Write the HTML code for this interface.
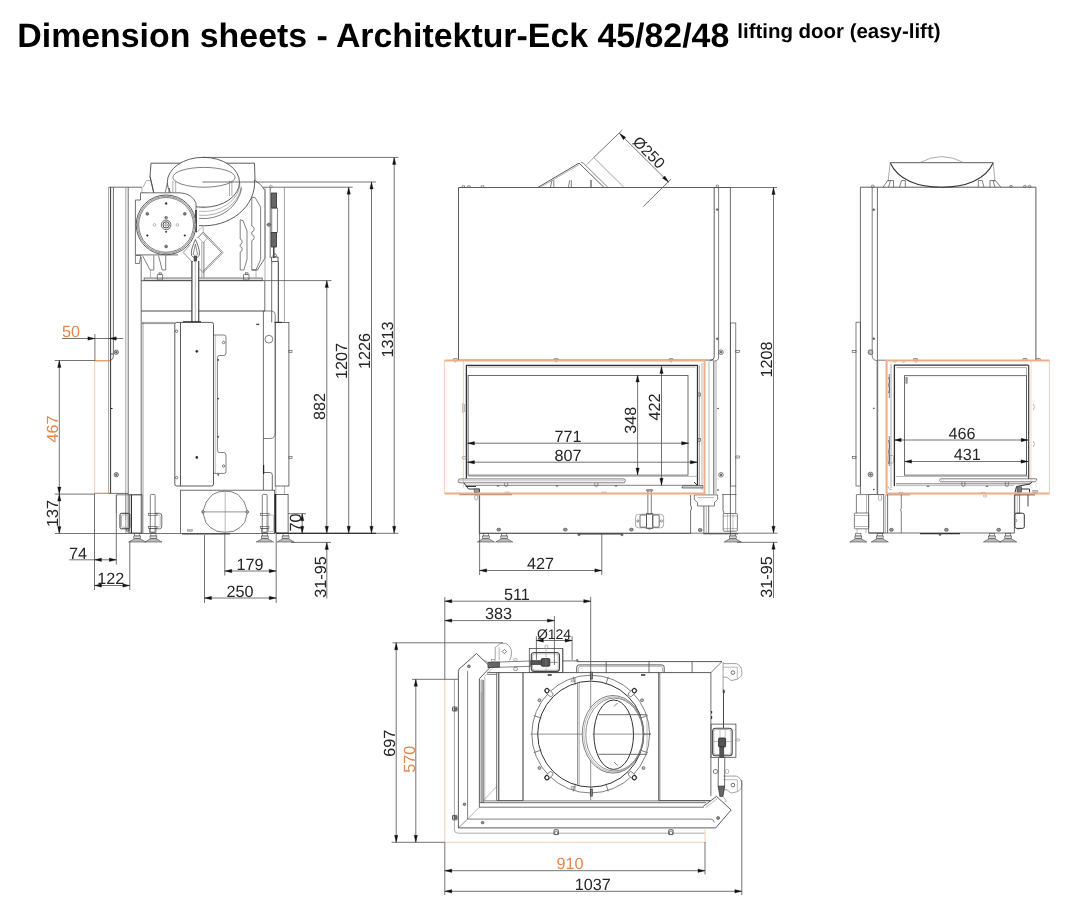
<!DOCTYPE html>
<html><head><meta charset="utf-8"><title>Dimension sheets</title>
<style>
html,body{margin:0;padding:0;background:#fff;text-rendering:geometricPrecision;}
body{width:1066px;height:903px;overflow:hidden;font-family:"Liberation Sans",sans-serif;position:relative;}
h1{position:absolute;left:17.3px;top:16.3px;margin:0;font-size:33.87px;line-height:40px;font-weight:bold;color:#000;white-space:nowrap;letter-spacing:0;will-change:transform;}
h1 sup{font-size:20.45px;position:relative;top:0px;vertical-align:9.3px;line-height:0;margin-left:-1.9px;}
svg{position:absolute;left:0;top:0;will-change:transform;}
svg text{font-family:"Liberation Sans",sans-serif;}
</style></head><body>
<svg width="1066" height="903" viewBox="0 0 1066 903">
<line x1="108.7" y1="187.2" x2="142" y2="187.2" stroke="#4a4a4a" stroke-width="0.8"/>
<line x1="108.6" y1="187.2" x2="108.6" y2="493.4" stroke="#8a8a8a" stroke-width="0.8"/>
<line x1="110.6" y1="187.2" x2="110.6" y2="493.4" stroke="#333" stroke-width="1.0"/>
<path d="M113.4,187.2 L113.4,356 Q113.4,359.5 110.8,360.2" fill="none" stroke="#4a4a4a" stroke-width="0.8" stroke-linejoin="round"/>
<line x1="125.8" y1="187.2" x2="125.8" y2="533" stroke="#8a8a8a" stroke-width="0.8"/>
<line x1="128.2" y1="187.2" x2="128.2" y2="533" stroke="#4a4a4a" stroke-width="0.8"/>
<line x1="141.2" y1="257" x2="141.2" y2="533" stroke="#4a4a4a" stroke-width="0.8"/>
<line x1="143" y1="322.4" x2="143" y2="533" stroke="#8a8a8a" stroke-width="0.8"/>
<circle cx="116.3" cy="352.2" r="2.2" fill="#ccc" stroke="#4a4a4a" stroke-width="0.7"/>
<circle cx="116.3" cy="352.2" r="0.8" fill="#666" stroke="#333" stroke-width="0.4"/>
<circle cx="116.3" cy="474.7" r="2.2" fill="#ccc" stroke="#4a4a4a" stroke-width="0.7"/>
<circle cx="116.3" cy="474.7" r="0.8" fill="#666" stroke="#333" stroke-width="0.4"/>
<line x1="108.6" y1="493.4" x2="128.2" y2="493.4" stroke="#4a4a4a" stroke-width="0.8"/>
<line x1="111" y1="408.5" x2="112.5" y2="408.5" stroke="#222" stroke-width="1"/>
<line x1="111" y1="354" x2="113" y2="354" stroke="#222" stroke-width="0.8"/>
<path d="M151,163.2 L254.5,163.2 L255,180 M151,163.2 L150,176.5 L153.8,193" fill="none" stroke="#4a4a4a" stroke-width="0.9" stroke-linejoin="round"/>
<line x1="150" y1="176.5" x2="153.8" y2="193" stroke="#4a4a4a" stroke-width="0.8"/>
<path d="M254.6,180 A51,43.5 0 0 1 199,225.6" fill="none" stroke="#4a4a4a" stroke-width="0.9" stroke-linejoin="round"/>
<path d="M241.4,186 A38,33 0 0 1 199,215.2" fill="none" stroke="#8a8a8a" stroke-width="0.7" stroke-linejoin="round"/>
<path d="M241.6,188 A38.2,36 0 0 1 199,218.3" fill="none" stroke="#4a4a4a" stroke-width="0.7" stroke-linejoin="round"/>
<path d="M240,183 A36.5,29 0 0 1 199,211.3" fill="none" stroke="#8a8a8a" stroke-width="0.6" stroke-linejoin="round"/>
<ellipse cx="203.4" cy="182.3" rx="36.1" ry="25" fill="#fff" stroke="#4a4a4a" stroke-width="0.9"/>
<ellipse cx="204" cy="177.3" rx="31.1" ry="9.9" fill="none" stroke="#4a4a4a" stroke-width="0.7"/>
<path d="M172.8,180.7 L172.8,192.5 M175.7,180.7 L175.7,192.5 M229.5,180.7 L229.5,196 M231.9,180.7 L231.9,196" fill="none" stroke="#8a8a8a" stroke-width="0.7" stroke-linejoin="round"/>
<path d="M167.4,183 L165.2,192.7 M169.6,188 L168.6,192.7" fill="none" stroke="#4a4a4a" stroke-width="0.7" stroke-linejoin="round"/>
<path d="M203.2,206 L201.8,207.6 L204.6,207.6 Z" fill="none" stroke="#8a8a8a" stroke-width="0.6" stroke-linejoin="round"/>
<path d="M143,187.2 L146.5,180.5 L150,180.5 M142,187.2 L142,193 L146,193 L146,196 L153,194" fill="none" stroke="#8a8a8a" stroke-width="0.7" stroke-linejoin="round"/>
<path d="M140.5,192.8 L180,192.8 Q192,193.5 196,203 L196,232 L186,249 L178,254.9 L135.4,254.9 L135.4,200 L140.5,200 Z" fill="#fff" stroke="none" stroke-width="0" stroke-linejoin="round"/>
<path d="M140.5,192.8 L180,192.8 Q192,193.5 196,203 L196,232 M135.4,200 L135.4,254.9 L178,254.9 M135.4,200 L140.5,200 L140.5,192.8" fill="none" stroke="#4a4a4a" stroke-width="0.8" stroke-linejoin="round"/>
<line x1="196" y1="210" x2="196" y2="232" stroke="#333" stroke-width="1.6"/>
<circle cx="166.1" cy="224.9" r="29.9" fill="#fff" stroke="#4a4a4a" stroke-width="0.9"/>
<circle cx="166.1" cy="224.9" r="28.6" fill="none" stroke="#4a4a4a" stroke-width="0.6"/>
<circle cx="166.1" cy="224.9" r="27.4" fill="none" stroke="#4a4a4a" stroke-width="0.7"/>
<circle cx="166.1" cy="224.9" r="4.8" fill="none" stroke="#4a4a4a" stroke-width="0.8"/>
<circle cx="166.1" cy="224.9" r="3.1" fill="none" stroke="#333" stroke-width="0.9"/>
<circle cx="166.1" cy="224.9" r="1.3" fill="none" stroke="#4a4a4a" stroke-width="0.6"/>
<circle cx="166.1" cy="203.5" r="0.9" fill="#222" stroke="#222" stroke-width="0.5"/>
<circle cx="166.1" cy="246.4" r="1.5" fill="#777" stroke="#555" stroke-width="0.5"/>
<circle cx="147.3" cy="213.8" r="1.5" fill="#777" stroke="#555" stroke-width="0.5"/>
<circle cx="184.8" cy="213.8" r="1.5" fill="#777" stroke="#555" stroke-width="0.5"/>
<circle cx="147.3" cy="235.5" r="0.8" fill="#222" stroke="#222" stroke-width="0.5"/>
<circle cx="184.8" cy="235.5" r="0.8" fill="#222" stroke="#222" stroke-width="0.5"/>
<circle cx="154.5" cy="224.9" r="1.3" fill="none" stroke="#8a8a8a" stroke-width="0.6"/>
<circle cx="177.4" cy="224.9" r="1.3" fill="none" stroke="#8a8a8a" stroke-width="0.6"/>
<circle cx="166.1" cy="217.7" r="1.4" fill="#888" stroke="#555" stroke-width="0.5"/>
<circle cx="166.1" cy="231.8" r="0.7" fill="#222" stroke="#222" stroke-width="0.5"/>
<path d="M135.4,255.5 L140.8,255.5 L139.5,263.5 L135.4,263.5 Z" fill="none" stroke="#4a4a4a" stroke-width="0.7" stroke-linejoin="round"/>
<path d="M142.5,255.5 L150,270 L153.8,270 L153.8,255.5 M158.5,255.5 L162.2,270 L165.7,270 L165.7,255.5" fill="none" stroke="#4a4a4a" stroke-width="0.7" stroke-linejoin="round"/>
<path d="M203.2,232 L223.1,252.5 L203.2,272.6 L199,268.4 M203.2,232 L197.5,238 M190.5,244.5 L183.2,252.5 L191.8,261.5" fill="none" stroke="#8a8a8a" stroke-width="0.9" stroke-linejoin="round"/>
<path d="M203.2,233.8 L221.5,252.5 L203.2,271" fill="none" stroke="#4a4a4a" stroke-width="0.6" stroke-linejoin="round"/>
<path d="M203.2,232.5 L208,237.6 L203.2,242.6 L198.4,237.6 Z" fill="none" stroke="#8a8a8a" stroke-width="0.7" stroke-linejoin="round"/>
<line x1="201.8" y1="242" x2="201.8" y2="277.5" stroke="#8a8a8a" stroke-width="0.7"/>
<line x1="203.9" y1="242" x2="203.9" y2="277.5" stroke="#4a4a4a" stroke-width="0.7"/>
<line x1="196" y1="233" x2="203.2" y2="226.5" stroke="#8a8a8a" stroke-width="0.6"/>
<line x1="203.2" y1="226.5" x2="203.2" y2="232" stroke="#8a8a8a" stroke-width="0.6"/>
<path d="M195.4,239.5 C193,245 190.6,251 191.6,255.5 Q195.4,260.5 199.2,255.5 C200.2,251 197.8,245 195.4,239.5 Z" fill="#fff" stroke="#4a4a4a" stroke-width="0.8" stroke-linejoin="round"/>
<path d="M195.4,244 L193.2,254.5 Q195.4,257 197.6,254.5 Z" fill="none" stroke="#4a4a4a" stroke-width="0.6" stroke-linejoin="round"/>
<rect x="194.2" y="256.5" width="2.2" height="4.5" rx="0" fill="#555" stroke="#333" stroke-width="0.8"/>
<line x1="192" y1="261" x2="192" y2="322.4" stroke="#4a4a4a" stroke-width="0.9"/>
<line x1="198.7" y1="261" x2="198.7" y2="322.4" stroke="#4a4a4a" stroke-width="0.9"/>
<line x1="195.3" y1="262" x2="195.3" y2="322" stroke="#8a8a8a" stroke-width="0.6"/>
<path d="M254.6,180 L260.6,184.7 L265,190.3 L265,258 L257.4,270 L251.8,270" fill="none" stroke="#4a4a4a" stroke-width="0.8" stroke-linejoin="round"/>
<path d="M251.8,197.4 L255,197.4 L260.6,207 L260.6,259.5 L255.8,270 L251.8,270 L251.8,240.5 Q254.6,239.5 254.2,237.5 Q254.6,235.5 251.8,234.5 L251.8,232 Q254.6,231 254.2,229 Q254.6,227 251.8,226 Z" fill="none" stroke="#4a4a4a" stroke-width="0.7" stroke-linejoin="round"/>
<path d="M240.2,219.8 L243,220.5 L247,231 L247,259.5 L243.8,270 L240.2,270 L240.2,252 Q242.6,251 242.2,249.3 Q242.6,247.5 240.2,246.5 L240.2,244.5 Q242.6,243.5 242.2,241.8 Q242.6,240 240.2,239 Z" fill="none" stroke="#4a4a4a" stroke-width="0.7" stroke-linejoin="round"/>
<rect x="144.1" y="278" width="118.1" height="2.4" rx="0" fill="#ddd" stroke="#4a4a4a" stroke-width="0.7"/>
<rect x="157.3" y="274.3" width="5.3" height="5.7" rx="0.8" fill="none" stroke="#4a4a4a" stroke-width="0.7"/>
<rect x="159" y="272.8" width="2.5" height="1.5" rx="0" fill="none" stroke="#4a4a4a" stroke-width="0.6"/>
<rect x="243.5" y="274.3" width="5.5" height="5.7" rx="0.8" fill="none" stroke="#4a4a4a" stroke-width="0.7"/>
<rect x="245.5" y="272.8" width="2.5" height="1.5" rx="0" fill="none" stroke="#4a4a4a" stroke-width="0.6"/>
<line x1="150.5" y1="270" x2="150.5" y2="278" stroke="#8a8a8a" stroke-width="0.6"/>
<line x1="256" y1="270" x2="256" y2="278" stroke="#8a8a8a" stroke-width="0.6"/>
<line x1="265" y1="187.2" x2="265" y2="280" stroke="#8a8a8a" stroke-width="0.7"/>
<line x1="284.4" y1="187.2" x2="284.4" y2="322.4" stroke="#8a8a8a" stroke-width="0.8"/>
<circle cx="270.9" cy="186.6" r="1.4" fill="none" stroke="#8a8a8a" stroke-width="0.7"/>
<line x1="270.2" y1="188" x2="270.2" y2="258" stroke="#4a4a4a" stroke-width="0.8"/>
<rect x="271.3" y="193" width="5.3" height="15" rx="0" fill="#666" stroke="#333" stroke-width="0.8"/>
<rect x="271.8" y="208" width="5.5" height="24.5" rx="0" fill="none" stroke="#4a4a4a" stroke-width="0.7"/>
<rect x="271.3" y="232.5" width="5.3" height="14.5" rx="0" fill="#666" stroke="#333" stroke-width="0.8"/>
<line x1="273.8" y1="247" x2="273.8" y2="258" stroke="#333" stroke-width="1.4"/>
<circle cx="268.9" cy="224.7" r="1.6" fill="#aaa" stroke="#4a4a4a" stroke-width="0.7"/>
<line x1="266.5" y1="224.7" x2="271.3" y2="224.7" stroke="#4a4a4a" stroke-width="0.6"/>
<path d="M271.6,257 L278,257 L278,261.5 L271.6,261.5 Z" fill="none" stroke="#4a4a4a" stroke-width="0.9" stroke-linejoin="round"/>
<circle cx="274.8" cy="255.5" r="1.6" fill="none" stroke="#4a4a4a" stroke-width="0.8"/>
<line x1="271.7" y1="261.5" x2="271.7" y2="322.4" stroke="#4a4a4a" stroke-width="0.8"/>
<line x1="278.3" y1="261.5" x2="278.3" y2="322.4" stroke="#333" stroke-width="1.0"/>
<line x1="141.2" y1="280.7" x2="264.8" y2="280.7" stroke="#4a4a4a" stroke-width="0.9"/>
<line x1="264.8" y1="280.7" x2="264.8" y2="311" stroke="#4a4a4a" stroke-width="0.8"/>
<line x1="141.2" y1="311" x2="192" y2="311" stroke="#4a4a4a" stroke-width="1.0"/>
<line x1="198.7" y1="311" x2="264.8" y2="311" stroke="#4a4a4a" stroke-width="1.0"/>
<line x1="141.2" y1="322.4" x2="174.8" y2="322.4" stroke="#8a8a8a" stroke-width="0.8"/>
<line x1="142" y1="323.6" x2="174.8" y2="323.6" stroke="#4a4a4a" stroke-width="0.6"/>
<rect x="192" y="262" width="6.7" height="59.5" rx="0" fill="#fff" stroke="none" stroke-width="0"/>
<line x1="192" y1="261" x2="192" y2="322.4" stroke="#404040" stroke-width="1.0"/>
<line x1="198.7" y1="261" x2="198.7" y2="322.4" stroke="#404040" stroke-width="1.0"/>
<line x1="195.3" y1="262" x2="195.3" y2="322" stroke="#8a8a8a" stroke-width="0.6"/>
<rect x="174.8" y="322.4" width="38.7" height="163.6" rx="2" fill="none" stroke="#4a4a4a" stroke-width="0.9"/>
<line x1="180.5" y1="322.4" x2="180.5" y2="486" stroke="#4a4a4a" stroke-width="0.9"/>
<line x1="183" y1="321.8" x2="201" y2="321.8" stroke="#333" stroke-width="1.2"/>
<circle cx="176.6" cy="331.2" r="1.2" fill="none" stroke="#4a4a4a" stroke-width="0.7"/>
<circle cx="176.6" cy="477.6" r="1.2" fill="none" stroke="#4a4a4a" stroke-width="0.7"/>
<circle cx="196.8" cy="351.3" r="1.1" fill="#222" stroke="#222" stroke-width="0.5"/>
<circle cx="196.8" cy="457.4" r="1.1" fill="#222" stroke="#222" stroke-width="0.5"/>
<path d="M213.5,335 L224,335 Q226,335 226,337 L226,353 Q226,355.5 223.5,355.5 L219.5,355.5 Q217.4,355.5 217.4,357.5 L217.4,450.5 Q217.4,452.5 219.5,452.5 L223.5,452.5 Q226,452.5 226,455 L226,471.4 Q226,473.4 224,473.4 L213.5,473.4" fill="none" stroke="#4a4a4a" stroke-width="0.7" stroke-linejoin="round"/>
<line x1="215.2" y1="335" x2="215.2" y2="473.4" stroke="#8a8a8a" stroke-width="0.6"/>
<circle cx="223.6" cy="342.5" r="1.2" fill="none" stroke="#4a4a4a" stroke-width="0.7"/>
<circle cx="223.6" cy="466" r="1.2" fill="none" stroke="#4a4a4a" stroke-width="0.7"/>
<circle cx="218.2" cy="359.9" r="0.6" fill="#222" stroke="#222" stroke-width="0.4"/>
<circle cx="218.2" cy="398.6" r="0.6" fill="#222" stroke="#222" stroke-width="0.4"/>
<circle cx="218.2" cy="436.8" r="0.6" fill="#222" stroke="#222" stroke-width="0.4"/>
<circle cx="218.2" cy="474.8" r="0.6" fill="#222" stroke="#222" stroke-width="0.4"/>
<path d="M263.4,311 L271.2,311 Q275.2,311 275.2,315.5 L275.2,433 Q275.2,438.5 270,438.5 L263.4,438.5" fill="none" stroke="#4a4a4a" stroke-width="0.7" stroke-linejoin="round"/>
<line x1="263.4" y1="311" x2="263.4" y2="490" stroke="#4a4a4a" stroke-width="0.8"/>
<circle cx="268.9" cy="339.2" r="3.9" fill="none" stroke="#4a4a4a" stroke-width="0.7"/>
<line x1="256.2" y1="324.3" x2="259.2" y2="324.3" stroke="#222" stroke-width="1.1"/>
<rect x="275.2" y="322.5" width="13.7" height="163.5" rx="0" fill="none" stroke="#4a4a4a" stroke-width="0.8"/>
<line x1="274.5" y1="322.4" x2="282" y2="322.4" stroke="#333" stroke-width="1.2"/>
<rect x="288.9" y="350.3" width="3.1" height="2" rx="0" fill="none" stroke="#4a4a4a" stroke-width="0.6"/>
<rect x="288.9" y="456.3" width="3.1" height="2" rx="0" fill="none" stroke="#4a4a4a" stroke-width="0.6"/>
<path d="M263.4,472.5 L270,472.5 Q272.3,472.5 272.3,475 L272.3,490" fill="none" stroke="#4a4a4a" stroke-width="0.8" stroke-linejoin="round"/>
<line x1="263.6" y1="465" x2="263.6" y2="474" stroke="#222" stroke-width="1.2"/>
<line x1="275.8" y1="486" x2="275.8" y2="494" stroke="#8a8a8a" stroke-width="0.7"/>
<line x1="284.4" y1="486" x2="284.4" y2="494" stroke="#8a8a8a" stroke-width="0.7"/>
<rect x="180.4" y="490.2" width="94.3" height="43.2" rx="0" fill="none" stroke="#4a4a4a" stroke-width="0.8"/>
<line x1="182" y1="533.8" x2="230" y2="533.8" stroke="#444" stroke-width="1.2"/>
<polygon points="202.8,511.9 206.2,502 212.5,494.5 219,491.8 225.2,491.2 231.5,491.8 238,494.5 244.2,502 247.6,511.9 244.6,522.5 240,527.5 233.5,531.3 225.2,532.3 217,531.3 210.5,527.5 205.8,522.5" fill="none" stroke="#4a4a4a" stroke-width="0.7" stroke-linejoin="round"/>
<line x1="202.8" y1="511.9" x2="247.6" y2="511.9" stroke="#4a4a4a" stroke-width="0.6"/>
<line x1="225.2" y1="491.5" x2="225.2" y2="533" stroke="#8a8a8a" stroke-width="0.6"/>
<circle cx="203" cy="511.9" r="1.3" fill="#bbb" stroke="#4a4a4a" stroke-width="0.7"/>
<circle cx="247.3" cy="511.9" r="1.3" fill="#bbb" stroke="#4a4a4a" stroke-width="0.7"/>
<rect x="187.5" y="529.6" width="5" height="1.6" rx="0" fill="#bbb" stroke="#8a8a8a" stroke-width="0.5"/>
<line x1="116.4" y1="494.8" x2="116.4" y2="513" stroke="#8a8a8a" stroke-width="0.7"/>
<line x1="116.4" y1="494.8" x2="142" y2="494.8" stroke="#4a4a4a" stroke-width="0.7"/>
<rect x="129.8" y="494.8" width="12.2" height="38.2" rx="0" fill="none" stroke="#4a4a4a" stroke-width="0.8"/>
<line x1="131.5" y1="494.8" x2="131.5" y2="533" stroke="#333" stroke-width="1.0"/>
<line x1="125.8" y1="494.8" x2="125.8" y2="520" stroke="#8a8a8a" stroke-width="0.6"/>
<rect x="120" y="513.3" width="9.8" height="15.5" rx="1.5" fill="none" stroke="#333" stroke-width="1.0"/>
<rect x="121.5" y="515" width="6.8" height="12.3" rx="1" fill="none" stroke="#8a8a8a" stroke-width="0.6"/>
<rect x="126.5" y="528.8" width="2.5" height="2.2" rx="0" fill="none" stroke="#4a4a4a" stroke-width="0.6"/>
<rect x="150.3" y="494.4" width="4.8" height="37.8" rx="1" fill="none" stroke="#4a4a4a" stroke-width="0.7"/>
<rect x="148.4" y="513.3" width="8.6" height="2" rx="0" fill="none" stroke="#4a4a4a" stroke-width="0.6"/>
<rect x="148.4" y="526.5" width="8.6" height="2" rx="0" fill="none" stroke="#4a4a4a" stroke-width="0.6"/>
<rect x="149.4" y="528.5" width="6.6" height="4" rx="0" fill="none" stroke="#4a4a4a" stroke-width="0.6"/>
<rect x="262.3" y="494.4" width="4.8" height="37.8" rx="1" fill="none" stroke="#4a4a4a" stroke-width="0.7"/>
<rect x="260.4" y="513.3" width="8.6" height="2" rx="0" fill="none" stroke="#4a4a4a" stroke-width="0.6"/>
<rect x="260.4" y="526.5" width="8.6" height="2" rx="0" fill="none" stroke="#4a4a4a" stroke-width="0.6"/>
<rect x="261.4" y="528.5" width="6.6" height="4" rx="0" fill="none" stroke="#4a4a4a" stroke-width="0.6"/>
<path d="M155,513.3 L159.5,513.3 Q161.8,513.3 161.8,516 L161.8,526 Q161.8,528.8 159.5,528.8 L155,528.8" fill="none" stroke="#4a4a4a" stroke-width="0.8" stroke-linejoin="round"/>
<path d="M155,515 L158.8,515 Q160.2,515 160.2,516.5 L160.2,525.5 Q160.2,527 158.8,527 L155,527" fill="none" stroke="#8a8a8a" stroke-width="0.6" stroke-linejoin="round"/>
<rect x="274.7" y="494.4" width="13.4" height="38.6" rx="0" fill="none" stroke="#4a4a4a" stroke-width="0.8"/>
<line x1="275.6" y1="494" x2="275.6" y2="533" stroke="#222" stroke-width="1.4"/>
<rect x="268.3" y="515" width="5.4" height="16.5" rx="1" fill="none" stroke="#8a8a8a" stroke-width="0.6"/>
<rect x="134.6" y="533.4" width="5.2" height="2.6" rx="0" fill="none" stroke="#4a4a4a" stroke-width="0.6"/>
<rect x="133.8" y="536" width="6.8" height="2.6" rx="0" fill="#ddd" stroke="#4a4a4a" stroke-width="0.6"/>
<path d="M128.6,542.0 Q133.2,539.4 134.6,538.6 L139.79999999999998,538.6 Q141.2,539.4 145.79999999999998,542.0 Z" fill="#bbb" stroke="#4a4a4a" stroke-width="0.6" stroke-linejoin="round"/>
<rect x="150.8" y="533.4" width="5.2" height="2.6" rx="0" fill="none" stroke="#4a4a4a" stroke-width="0.6"/>
<rect x="150" y="536" width="6.8" height="2.6" rx="0" fill="#ddd" stroke="#4a4a4a" stroke-width="0.6"/>
<path d="M144.8,542.0 Q149.4,539.4 150.8,538.6 L156.0,538.6 Q157.4,539.4 162.0,542.0 Z" fill="#bbb" stroke="#4a4a4a" stroke-width="0.6" stroke-linejoin="round"/>
<rect x="262.2" y="533.4" width="5.2" height="2.6" rx="0" fill="none" stroke="#4a4a4a" stroke-width="0.6"/>
<rect x="261.4" y="536" width="6.8" height="2.6" rx="0" fill="#ddd" stroke="#4a4a4a" stroke-width="0.6"/>
<path d="M256.2,542.0 Q260.8,539.4 262.2,538.6 L267.40000000000003,538.6 Q268.8,539.4 273.40000000000003,542.0 Z" fill="#bbb" stroke="#4a4a4a" stroke-width="0.6" stroke-linejoin="round"/>
<rect x="283" y="533.4" width="5.2" height="2.6" rx="0" fill="none" stroke="#4a4a4a" stroke-width="0.6"/>
<rect x="282.2" y="536" width="6.8" height="2.6" rx="0" fill="#ddd" stroke="#4a4a4a" stroke-width="0.6"/>
<path d="M277.0,542.0 Q281.6,539.4 283.0,538.6 L288.20000000000005,538.6 Q289.6,539.4 294.20000000000005,542.0 Z" fill="#bbb" stroke="#4a4a4a" stroke-width="0.6" stroke-linejoin="round"/>
<line x1="458.5" y1="187.5" x2="730.6" y2="187.5" stroke="#4a4a4a" stroke-width="0.9"/>
<line x1="458.5" y1="187.5" x2="458.5" y2="360.2" stroke="#4a4a4a" stroke-width="0.9"/>
<line x1="458.5" y1="360.1" x2="714.2" y2="360.1" stroke="#4a4a4a" stroke-width="0.8"/>
<path d="M462.0,187.2 L462.0,185.8 L464.6,185.8 L464.6,187.2" fill="none" stroke="#4a4a4a" stroke-width="0.6" stroke-linejoin="round"/>
<path d="M467.7,187.2 L467.7,185.8 L470.3,185.8 L470.3,187.2" fill="none" stroke="#4a4a4a" stroke-width="0.6" stroke-linejoin="round"/>
<path d="M481.2,187.2 L481.2,185.8 L483.8,185.8 L483.8,187.2" fill="none" stroke="#4a4a4a" stroke-width="0.6" stroke-linejoin="round"/>
<path d="M538.2,187.3 L579.1,163.1 L603.9,187.3" fill="none" stroke="#4a4a4a" stroke-width="0.9" stroke-linejoin="round"/>
<path d="M540.5,187.3 L579.3,164.6" fill="none" stroke="#8a8a8a" stroke-width="0.6" stroke-linejoin="round"/>
<path d="M583.3,163.1 L607.8,187.3" fill="none" stroke="#4a4a4a" stroke-width="0.7" stroke-linejoin="round"/>
<path d="M581,162.2 L583.3,163.1" fill="none" stroke="#4a4a4a" stroke-width="0.6" stroke-linejoin="round"/>
<path d="M586.7,164.8 L593.8,157.5 L623.9,187.3" fill="none" stroke="#8a8a8a" stroke-width="0.8" stroke-linejoin="round"/>
<path d="M550.4,187.3 L552,180.5 M553.8,187.3 L553.8,180 M568.5,187.3 L569.6,180.3 M571.3,187.3 L571.3,180" fill="none" stroke="#4a4a4a" stroke-width="0.7" stroke-linejoin="round"/>
<line x1="591" y1="187.3" x2="591" y2="180" stroke="#333" stroke-width="1.0"/>
<path d="M714.2,187.5 L714.2,356 Q714.2,360.2 710,360.2" fill="none" stroke="#4a4a4a" stroke-width="0.9" stroke-linejoin="round"/>
<path d="M718.6,187.5 L718.6,357 Q718.6,361 714.5,361" fill="none" stroke="#4a4a4a" stroke-width="0.7" stroke-linejoin="round"/>
<circle cx="717.4" cy="186" r="1.2" fill="none" stroke="#4a4a4a" stroke-width="0.6"/>
<circle cx="717.2" cy="209.6" r="0.9" fill="#777" stroke="#333" stroke-width="0.5"/>
<circle cx="717.2" cy="338.8" r="0.9" fill="#777" stroke="#333" stroke-width="0.5"/>
<circle cx="721" cy="352.2" r="2.3" fill="none" stroke="#4a4a4a" stroke-width="0.7"/>
<circle cx="721" cy="352.2" r="0.9" fill="#777" stroke="#333" stroke-width="0.5"/>
<circle cx="721" cy="474.8" r="2.3" fill="none" stroke="#4a4a4a" stroke-width="0.7"/>
<circle cx="721" cy="474.8" r="0.9" fill="#555" stroke="#333" stroke-width="0.5"/>
<line x1="730.4" y1="187.5" x2="730.4" y2="533" stroke="#4a4a4a" stroke-width="0.8"/>
<rect x="730.4" y="323" width="5.4" height="163" rx="0" fill="none" stroke="#4a4a4a" stroke-width="0.7"/>
<rect x="735.8" y="350.3" width="3.7" height="2" rx="0" fill="none" stroke="#4a4a4a" stroke-width="0.6"/>
<rect x="735.8" y="456" width="3.7" height="2" rx="0" fill="none" stroke="#4a4a4a" stroke-width="0.6"/>
<circle cx="718" cy="408.5" r="0.5" fill="#222" stroke="#222" stroke-width="0.4"/>
<circle cx="718" cy="490" r="0.5" fill="#222" stroke="#222" stroke-width="0.4"/>
<line x1="713.8" y1="361" x2="713.8" y2="494" stroke="#4a4a4a" stroke-width="0.9"/>
<line x1="716" y1="361" x2="716" y2="494" stroke="#8a8a8a" stroke-width="0.7"/>
<line x1="709" y1="361" x2="709" y2="494" stroke="#8a8a8a" stroke-width="0.6"/>
<rect x="453.2" y="358.6" width="4.4" height="1.6" rx="0.8" fill="none" stroke="#4a4a4a" stroke-width="0.6"/>
<path d="M453.9,360.6 Q455.4,363.4 456.9,360.6" fill="none" stroke="#4a4a4a" stroke-width="0.6" stroke-linejoin="round"/>
<rect x="554" y="358.6" width="4.4" height="1.6" rx="0.8" fill="none" stroke="#4a4a4a" stroke-width="0.6"/>
<path d="M554.7,360.6 Q556.2,363.4 557.7,360.6" fill="none" stroke="#4a4a4a" stroke-width="0.6" stroke-linejoin="round"/>
<rect x="669" y="358.6" width="4.4" height="1.6" rx="0.8" fill="none" stroke="#4a4a4a" stroke-width="0.6"/>
<path d="M669.7,360.6 Q671.2,363.4 672.7,360.6" fill="none" stroke="#4a4a4a" stroke-width="0.6" stroke-linejoin="round"/>
<path d="M466.4,478.6 L466.4,365.3 L697.5,365.3 L697.5,485.2" fill="none" stroke="#333" stroke-width="1.3" stroke-linejoin="round"/>
<line x1="468" y1="367" x2="695.5" y2="367" stroke="#8a8a8a" stroke-width="0.7"/>
<line x1="699.5" y1="365.3" x2="699.5" y2="486" stroke="#8a8a8a" stroke-width="0.7"/>
<line x1="702" y1="363" x2="702" y2="490" stroke="#8a8a8a" stroke-width="0.6"/>
<line x1="463.4" y1="361" x2="463.4" y2="488" stroke="#f4c8aa" stroke-width="0.8"/>
<rect x="468.1" y="375.5" width="219.9" height="99.6" rx="0" fill="none" stroke="#4a4a4a" stroke-width="0.8"/>
<line x1="468.1" y1="476.4" x2="697.5" y2="476.4" stroke="#8a8a8a" stroke-width="0.6"/>
<rect x="698" y="393" width="2.6" height="3" rx="0" fill="none" stroke="#4a4a4a" stroke-width="0.6"/>
<rect x="698" y="438.5" width="2.6" height="3" rx="0" fill="none" stroke="#4a4a4a" stroke-width="0.6"/>
<path d="M462.8,403 L462.8,413 M464.6,404 L464.6,412" fill="none" stroke="#8a8a8a" stroke-width="0.6" stroke-linejoin="round"/>
<rect x="462.2" y="456.5" width="3.8" height="2.5" rx="1" fill="none" stroke="#8a8a8a" stroke-width="0.6"/>
<rect x="458.2" y="478.9" width="167" height="3.9" rx="1.8" fill="none" stroke="#4a4a4a" stroke-width="0.7"/>
<line x1="459" y1="480.8" x2="624" y2="480.8" stroke="#8a8a8a" stroke-width="0.5"/>
<line x1="466" y1="485.3" x2="697" y2="485.3" stroke="#4a4a4a" stroke-width="0.7"/>
<path d="M504.7,482.8 L504.7,485.8 Q506.2,487.6 507.7,485.8 L507.7,482.8" fill="none" stroke="#4a4a4a" stroke-width="0.6" stroke-linejoin="round"/>
<path d="M594.9,482.8 L594.9,485.8 Q596.4,487.6 597.9,485.8 L597.9,482.8" fill="none" stroke="#4a4a4a" stroke-width="0.6" stroke-linejoin="round"/>
<line x1="496.8" y1="486" x2="499.2" y2="486" stroke="#333" stroke-width="0.8"/>
<line x1="555.8" y1="486" x2="558.2" y2="486" stroke="#333" stroke-width="0.8"/>
<line x1="614.8" y1="486" x2="617.2" y2="486" stroke="#333" stroke-width="0.8"/>
<path d="M464,483 L468.5,489 L479.5,489 L479.5,492 M465.8,486.5 L476,486.5" fill="none" stroke="#333" stroke-width="1.0" stroke-linejoin="round"/>
<rect x="474.2" y="489" width="5" height="3.6" rx="0" fill="#999" stroke="#4a4a4a" stroke-width="0.6"/>
<rect x="474.8" y="494.8" width="2.8" height="5.2" rx="1.4" fill="none" stroke="#8a8a8a" stroke-width="0.7"/>
<line x1="459.4" y1="494.7" x2="512" y2="494.7" stroke="#4a4a4a" stroke-width="0.8"/>
<rect x="505" y="492" width="4.5" height="1.2" rx="0" fill="none" stroke="#8a8a8a" stroke-width="0.5"/>
<rect x="602" y="492" width="4" height="1.2" rx="0" fill="none" stroke="#8a8a8a" stroke-width="0.5"/>
<path d="M683,485.5 L703,485.5 L703,488 L681.8,488 Z" fill="#ccc" stroke="#4a4a4a" stroke-width="0.7" stroke-linejoin="round"/>
<line x1="694" y1="482" x2="697.5" y2="485.5" stroke="#333" stroke-width="1"/>
<line x1="479.3" y1="494.6" x2="479.3" y2="533.5" stroke="#4a4a4a" stroke-width="0.8"/>
<line x1="479.3" y1="533.4" x2="690.6" y2="533.4" stroke="#4a4a4a" stroke-width="0.8"/>
<line x1="577.6" y1="533.9" x2="623" y2="533.9" stroke="#333" stroke-width="1.2"/>
<circle cx="579" cy="534.7" r="1.1" fill="#777" stroke="#4a4a4a" stroke-width="0.6"/>
<circle cx="622" cy="534.7" r="1.1" fill="#777" stroke="#4a4a4a" stroke-width="0.6"/>
<line x1="703.4" y1="533.7" x2="738" y2="533.7" stroke="#333" stroke-width="1.1"/>
<ellipse cx="498.8" cy="529.6" rx="1.9" ry="1.4" fill="#999" stroke="#4a4a4a" stroke-width="0.7"/>
<ellipse cx="565.3" cy="529.6" rx="1.9" ry="1.4" fill="#999" stroke="#4a4a4a" stroke-width="0.7"/>
<ellipse cx="631.4" cy="529.6" rx="1.9" ry="1.4" fill="#999" stroke="#4a4a4a" stroke-width="0.7"/>
<ellipse cx="700.2" cy="530" rx="1.9" ry="1.6" fill="#999" stroke="#4a4a4a" stroke-width="0.7"/>
<path d="M690.6,494.9 L690.6,505 L691.6,508 L690.6,511 L690.6,533.4" fill="none" stroke="#4a4a4a" stroke-width="0.8" stroke-linejoin="round"/>
<rect x="647.9" y="490.7" width="3.3" height="23.6" rx="0" fill="none" stroke="#4a4a4a" stroke-width="0.7"/>
<rect x="646.3" y="489.6" width="6.5" height="1.4" rx="0.6" fill="#ccc" stroke="#4a4a4a" stroke-width="0.6"/>
<rect x="635.5" y="514.3" width="28.1" height="13.5" rx="3" fill="none" stroke="#8a8a8a" stroke-width="0.7"/>
<rect x="640" y="515" width="6.5" height="12.2" rx="1" fill="none" stroke="#4a4a4a" stroke-width="0.8"/>
<rect x="652.8" y="515" width="6.4" height="12.2" rx="1" fill="none" stroke="#4a4a4a" stroke-width="0.8"/>
<rect x="646.5" y="513.6" width="6.3" height="14.8" rx="0" fill="none" stroke="#4a4a4a" stroke-width="0.7"/>
<circle cx="637.8" cy="521" r="1.1" fill="none" stroke="#4a4a4a" stroke-width="0.6"/>
<circle cx="661.4" cy="521" r="1.1" fill="none" stroke="#4a4a4a" stroke-width="0.6"/>
<path d="M648,528.4 Q649.6,530.4 651.2,528.4" fill="none" stroke="#4a4a4a" stroke-width="0.6" stroke-linejoin="round"/>
<path d="M694.3,494.9 L717.6,494.9 L717.6,499.5 L714.5,502.5 L714.5,506 L697.5,506 L697.5,502.5 L694.3,499.5 Z" fill="none" stroke="#4a4a4a" stroke-width="0.7" stroke-linejoin="round"/>
<line x1="698" y1="497.6" x2="714" y2="497.6" stroke="#8a8a8a" stroke-width="0.6"/>
<line x1="703.9" y1="506" x2="703.9" y2="533.4" stroke="#4a4a4a" stroke-width="0.8"/>
<line x1="708.7" y1="506" x2="708.7" y2="533.4" stroke="#4a4a4a" stroke-width="0.8"/>
<line x1="706.3" y1="506" x2="706.3" y2="533" stroke="#8a8a8a" stroke-width="0.6"/>
<path d="M723,494.5 L723,510 L724,513.5" fill="none" stroke="#4a4a4a" stroke-width="0.8" stroke-linejoin="round"/>
<line x1="735.7" y1="486" x2="735.7" y2="513.5" stroke="#4a4a4a" stroke-width="0.7"/>
<line x1="722" y1="494.5" x2="736.4" y2="494.5" stroke="#4a4a4a" stroke-width="0.7"/>
<rect x="723.2" y="513.5" width="14.2" height="17.7" rx="1" fill="none" stroke="#4a4a4a" stroke-width="0.7"/>
<line x1="723.2" y1="516" x2="737.4" y2="516" stroke="#8a8a8a" stroke-width="0.6"/>
<line x1="723.2" y1="528.6" x2="737.4" y2="528.6" stroke="#8a8a8a" stroke-width="0.6"/>
<line x1="727.5" y1="513.5" x2="727.5" y2="531.2" stroke="#8a8a8a" stroke-width="0.5"/>
<line x1="733" y1="513.5" x2="733" y2="531.2" stroke="#8a8a8a" stroke-width="0.5"/>
<rect x="483.3" y="533.4" width="5.2" height="2.6" rx="0" fill="none" stroke="#4a4a4a" stroke-width="0.6"/>
<rect x="482.5" y="536" width="6.8" height="2.6" rx="0" fill="#ddd" stroke="#4a4a4a" stroke-width="0.6"/>
<path d="M477.29999999999995,542.0 Q481.9,539.4 483.29999999999995,538.6 L488.5,538.6 Q489.9,539.4 494.5,542.0 Z" fill="#bbb" stroke="#4a4a4a" stroke-width="0.6" stroke-linejoin="round"/>
<rect x="501.6" y="533.4" width="5.2" height="2.6" rx="0" fill="none" stroke="#4a4a4a" stroke-width="0.6"/>
<rect x="500.8" y="536" width="6.8" height="2.6" rx="0" fill="#ddd" stroke="#4a4a4a" stroke-width="0.6"/>
<path d="M495.59999999999997,542.0 Q500.2,539.4 501.59999999999997,538.6 L506.8,538.6 Q508.2,539.4 512.8,542.0 Z" fill="#bbb" stroke="#4a4a4a" stroke-width="0.6" stroke-linejoin="round"/>
<rect x="730.2" y="533.4" width="5.2" height="2.6" rx="0" fill="none" stroke="#4a4a4a" stroke-width="0.6"/>
<rect x="729.4" y="536" width="6.8" height="2.6" rx="0" fill="#ddd" stroke="#4a4a4a" stroke-width="0.6"/>
<path d="M724.1999999999999,542.0 Q728.8,539.4 730.1999999999999,538.6 L735.4,538.6 Q736.8,539.4 741.4,542.0 Z" fill="#bbb" stroke="#4a4a4a" stroke-width="0.6" stroke-linejoin="round"/>
<line x1="860.4" y1="187.2" x2="1035.9" y2="187.2" stroke="#4a4a4a" stroke-width="0.9"/>
<line x1="1035.9" y1="187.2" x2="1035.9" y2="360.2" stroke="#4a4a4a" stroke-width="0.9"/>
<line x1="860.4" y1="187.2" x2="860.4" y2="494" stroke="#4a4a4a" stroke-width="0.8"/>
<path d="M872.2,187.2 L872.2,355.5 Q872.2,360.6 877.5,360.6" fill="none" stroke="#4a4a4a" stroke-width="0.7" stroke-linejoin="round"/>
<line x1="877.4" y1="187.2" x2="877.4" y2="360.6" stroke="#4a4a4a" stroke-width="0.8"/>
<line x1="877.4" y1="360.6" x2="877.4" y2="494" stroke="#777" stroke-width="1.6"/>
<line x1="877.4" y1="360.2" x2="886" y2="360.2" stroke="#4a4a4a" stroke-width="0.7"/>
<ellipse cx="872.8" cy="186.3" rx="1.5" ry="1.2" fill="none" stroke="#4a4a4a" stroke-width="0.6"/>
<circle cx="873.7" cy="209.7" r="0.9" fill="#777" stroke="#333" stroke-width="0.5"/>
<circle cx="873.7" cy="338.7" r="0.9" fill="#777" stroke="#333" stroke-width="0.5"/>
<circle cx="870.5" cy="352.2" r="2.4" fill="#bbb" stroke="#4a4a4a" stroke-width="0.7"/>
<circle cx="870.5" cy="474.5" r="2.4" fill="#ddd" stroke="#4a4a4a" stroke-width="0.7"/>
<circle cx="870.5" cy="474.5" r="0.9" fill="#777" stroke="#333" stroke-width="0.5"/>
<circle cx="873.8" cy="408.3" r="0.5" fill="#222" stroke="#222" stroke-width="0.4"/>
<circle cx="873.8" cy="489.5" r="0.5" fill="#222" stroke="#222" stroke-width="0.4"/>
<rect x="856" y="322.2" width="4.4" height="163.8" rx="0" fill="none" stroke="#4a4a4a" stroke-width="0.7"/>
<rect x="852.2" y="350.6" width="3.8" height="1.9" rx="0" fill="none" stroke="#4a4a4a" stroke-width="0.6"/>
<rect x="852.2" y="456.4" width="3.8" height="1.9" rx="0" fill="none" stroke="#4a4a4a" stroke-width="0.6"/>
<ellipse cx="1011" cy="186.4" rx="1.4" ry="1" fill="none" stroke="#4a4a4a" stroke-width="0.6"/>
<ellipse cx="1024.8" cy="186.4" rx="1.4" ry="1" fill="none" stroke="#4a4a4a" stroke-width="0.6"/>
<ellipse cx="1029.6" cy="186.4" rx="1.4" ry="1" fill="none" stroke="#4a4a4a" stroke-width="0.6"/>
<path d="M890.2,162.7 L993.2,162.7" fill="none" stroke="#4a4a4a" stroke-width="0.9" stroke-linejoin="round"/>
<path d="M890.2,162.7 C898,180 918,187.2 941.7,187.2 C965,187.2 985.5,180 993.2,162.7" fill="none" stroke="#333" stroke-width="1.1" stroke-linejoin="round"/>
<path d="M919.7,162.7 Q941.7,150.5 963.9,162.7" fill="none" stroke="#8a8a8a" stroke-width="0.7" stroke-linejoin="round"/>
<path d="M890.2,162.7 L888,182 M993.2,162.7 L995,182" fill="none" stroke="#8a8a8a" stroke-width="0.7" stroke-linejoin="round"/>
<path d="M883,187.2 L887.8,180.5 L893.5,180.5 L893.5,187.2 M888.5,187.2 L890.5,180.5 M899.5,187.2 L901.5,180.5 L905.3,180.5 L905.3,187.2" fill="none" stroke="#4a4a4a" stroke-width="0.7" stroke-linejoin="round"/>
<path d="M984,187.2 L982.2,180.5 L978.3,180.5 L978.3,187.2 M1000.8,187.2 L995.5,180.5 L990,180.5 L990,187.2 M995,187.2 L993,180.5" fill="none" stroke="#4a4a4a" stroke-width="0.7" stroke-linejoin="round"/>
<rect x="913.3" y="358.5" width="4.4" height="1.5" rx="0.8" fill="none" stroke="#4a4a4a" stroke-width="0.6"/>
<rect x="1022.8" y="358.5" width="4.4" height="1.5" rx="0.8" fill="none" stroke="#4a4a4a" stroke-width="0.6"/>
<rect x="1036.1" y="358.5" width="4.4" height="1.5" rx="0.8" fill="none" stroke="#4a4a4a" stroke-width="0.6"/>
<path d="M893.2,361.3 Q895,363.2 896.8,361.3" fill="none" stroke="#e08a50" stroke-width="0.8" stroke-linejoin="round"/>
<path d="M901.7,361.3 Q903.5,363.2 905.3,361.3" fill="none" stroke="#e08a50" stroke-width="0.8" stroke-linejoin="round"/>
<path d="M914.2,361.3 Q916,363.2 917.8,361.3" fill="none" stroke="#e08a50" stroke-width="0.8" stroke-linejoin="round"/>
<line x1="891" y1="364" x2="891" y2="488" stroke="#8a8a8a" stroke-width="0.7"/>
<path d="M1028.3,365.1 L894.4,365.1 L894.4,486" fill="none" stroke="#333" stroke-width="1.3" stroke-linejoin="round"/>
<line x1="1028.7" y1="365.1" x2="1028.7" y2="479" stroke="#333" stroke-width="1.1"/>
<line x1="1026.5" y1="367.6" x2="1026.5" y2="476" stroke="#8a8a8a" stroke-width="0.7"/>
<line x1="896.5" y1="367.6" x2="1026.5" y2="367.6" stroke="#8a8a8a" stroke-width="0.7"/>
<line x1="1031" y1="361" x2="1031" y2="488" stroke="#f4c8aa" stroke-width="0.7"/>
<rect x="904.5" y="375.7" width="122" height="99.4" rx="0" fill="none" stroke="#4a4a4a" stroke-width="0.8"/>
<line x1="896" y1="476.5" x2="1028" y2="476.5" stroke="#8a8a8a" stroke-width="0.6"/>
<rect x="905.8" y="377.5" width="1.6" height="6" rx="0" fill="#999" stroke="#8a8a8a" stroke-width="0.5"/>
<path d="M889.3,374 L889.3,398 M888.6,377 Q890.6,381 888.6,385 Q890.6,389 888.6,393 M889.3,436 L889.3,466 M888.6,440 Q890.8,446 888.6,452 Q890.8,458 888.6,464" fill="none" stroke="#4a4a4a" stroke-width="0.7" stroke-linejoin="round"/>
<rect x="888" y="455.5" width="5.5" height="7.5" rx="1" fill="none" stroke="#8a8a8a" stroke-width="0.6"/>
<path d="M1033.4,404 L1034.4,407 L1033.4,410 M1033.4,441 L1034.4,444 L1033.4,447" fill="none" stroke="#8a8a8a" stroke-width="0.6" stroke-linejoin="round"/>
<path d="M940.5,478.8 L1036.6,478.8 Q1037.6,480 1035,481.8 L940.5,481.8 Q938.5,480.3 940.5,478.8 Z" fill="none" stroke="#4a4a4a" stroke-width="0.7" stroke-linejoin="round"/>
<line x1="896" y1="483.8" x2="1030" y2="483.8" stroke="#4a4a4a" stroke-width="0.7"/>
<line x1="896" y1="485.6" x2="1014" y2="485.6" stroke="#8a8a8a" stroke-width="0.6"/>
<path d="M961.9,481.8 L961.9,485.6 Q963.4,487.6 964.9,485.6 L964.9,481.8" fill="none" stroke="#4a4a4a" stroke-width="0.6" stroke-linejoin="round"/>
<path d="M1005.3,481.8 L1005.3,485.6 Q1006.8,487.6 1008.3,485.6 L1008.3,481.8" fill="none" stroke="#4a4a4a" stroke-width="0.6" stroke-linejoin="round"/>
<line x1="926.8" y1="486.3" x2="929.2" y2="486.3" stroke="#333" stroke-width="0.8"/>
<line x1="985.8" y1="486.3" x2="988.2" y2="486.3" stroke="#333" stroke-width="0.8"/>
<path d="M1015,492.6 L1016.5,486.5 L1030,484 L1032,481.8 M1019,489 L1029.5,489 L1029.5,492.6" fill="none" stroke="#333" stroke-width="1.0" stroke-linejoin="round"/>
<rect x="1017" y="486.8" width="4.5" height="5.4" rx="0" fill="#777" stroke="#333" stroke-width="0.6"/>
<rect x="1032.8" y="490.6" width="4.8" height="2" rx="0" fill="#ccc" stroke="#8a8a8a" stroke-width="0.6"/>
<line x1="1014.4" y1="494.8" x2="1035" y2="494.8" stroke="#333" stroke-width="1.0"/>
<path d="M887.5,486 L890,489.5 L892,489.5" fill="none" stroke="#8a8a8a" stroke-width="0.6" stroke-linejoin="round"/>
<line x1="886" y1="494.8" x2="910" y2="494.8" stroke="#4a4a4a" stroke-width="0.7"/>
<line x1="887.6" y1="494.6" x2="887.6" y2="533" stroke="#4a4a4a" stroke-width="0.8"/>
<line x1="885.6" y1="494.6" x2="885.6" y2="533" stroke="#8a8a8a" stroke-width="0.6"/>
<path d="M901.3,494.6 L901.3,508 L900.6,510 L901.3,512 L901.3,533" fill="none" stroke="#4a4a4a" stroke-width="0.7" stroke-linejoin="round"/>
<line x1="868.7" y1="533" x2="1014.4" y2="533" stroke="#4a4a4a" stroke-width="0.8"/>
<line x1="1014.4" y1="494.8" x2="1014.4" y2="533" stroke="#4a4a4a" stroke-width="0.8"/>
<line x1="920" y1="533.7" x2="960" y2="533.7" stroke="#333" stroke-width="1.2"/>
<circle cx="940" cy="534.6" r="1" fill="#777" stroke="#4a4a4a" stroke-width="0.6"/>
<ellipse cx="891.4" cy="529.8" rx="1.9" ry="1.5" fill="#999" stroke="#4a4a4a" stroke-width="0.7"/>
<ellipse cx="946.4" cy="529.8" rx="1.9" ry="1.5" fill="#999" stroke="#4a4a4a" stroke-width="0.7"/>
<ellipse cx="998.7" cy="529.8" rx="1.9" ry="1.5" fill="#999" stroke="#4a4a4a" stroke-width="0.7"/>
<rect x="981.5" y="492.4" width="4" height="1" rx="0" fill="none" stroke="#8a8a8a" stroke-width="0.5"/>
<rect x="899" y="492.4" width="4" height="1" rx="0" fill="none" stroke="#8a8a8a" stroke-width="0.5"/>
<ellipse cx="985" cy="496" rx="1.8" ry="1" fill="none" stroke="#8a8a8a" stroke-width="0.5"/>
<line x1="856.4" y1="494.6" x2="856.4" y2="513" stroke="#4a4a4a" stroke-width="0.7"/>
<line x1="860.4" y1="494.6" x2="868.7" y2="494.6" stroke="#4a4a4a" stroke-width="0.7"/>
<line x1="856.4" y1="494.6" x2="860.4" y2="494.6" stroke="#4a4a4a" stroke-width="0.7"/>
<line x1="866.5" y1="494.6" x2="866.5" y2="513" stroke="#8a8a8a" stroke-width="0.6"/>
<rect x="854.4" y="513" width="14.3" height="15.8" rx="1" fill="none" stroke="#4a4a4a" stroke-width="0.7"/>
<line x1="854.4" y1="515.5" x2="868.7" y2="515.5" stroke="#8a8a8a" stroke-width="0.6"/>
<line x1="854.4" y1="526.5" x2="868.7" y2="526.5" stroke="#8a8a8a" stroke-width="0.6"/>
<line x1="857" y1="528.8" x2="857" y2="533" stroke="#8a8a8a" stroke-width="0.6"/>
<line x1="866" y1="528.8" x2="866" y2="533" stroke="#8a8a8a" stroke-width="0.6"/>
<rect x="868.7" y="494.6" width="15.1" height="38.4" rx="0" fill="none" stroke="#4a4a4a" stroke-width="0.8"/>
<rect x="878.5" y="494.6" width="3" height="5.9" rx="1.4" fill="none" stroke="#8a8a8a" stroke-width="0.6"/>
<rect x="1014.9" y="494.8" width="4.8" height="18.4" rx="0" fill="none" stroke="#4a4a4a" stroke-width="0.7"/>
<line x1="1017.3" y1="494.8" x2="1017.3" y2="513.2" stroke="#8a8a8a" stroke-width="0.5"/>
<rect x="1014.9" y="513.2" width="9.4" height="15.2" rx="1.8" fill="none" stroke="#333" stroke-width="1.0"/>
<path d="M1016,519 L1016.8,520.5 L1016,522" fill="none" stroke="#4a4a4a" stroke-width="0.6" stroke-linejoin="round"/>
<path d="M1016.8,528.4 Q1018,530.2 1019.2,528.4" fill="none" stroke="#4a4a4a" stroke-width="0.6" stroke-linejoin="round"/>
<line x1="1028" y1="495" x2="1028" y2="506.4" stroke="#444" stroke-width="1.0"/>
<rect x="855.7" y="533.4" width="5.2" height="2.6" rx="0" fill="none" stroke="#4a4a4a" stroke-width="0.6"/>
<rect x="854.9" y="536" width="6.8" height="2.6" rx="0" fill="#ddd" stroke="#4a4a4a" stroke-width="0.6"/>
<path d="M849.6999999999999,542.0 Q854.3,539.4 855.6999999999999,538.6 L860.9,538.6 Q862.3,539.4 866.9,542.0 Z" fill="#bbb" stroke="#4a4a4a" stroke-width="0.6" stroke-linejoin="round"/>
<rect x="877.2" y="533.4" width="5.2" height="2.6" rx="0" fill="none" stroke="#4a4a4a" stroke-width="0.6"/>
<rect x="876.4" y="536" width="6.8" height="2.6" rx="0" fill="#ddd" stroke="#4a4a4a" stroke-width="0.6"/>
<path d="M871.1999999999999,542.0 Q875.8,539.4 877.1999999999999,538.6 L882.4,538.6 Q883.8,539.4 888.4,542.0 Z" fill="#bbb" stroke="#4a4a4a" stroke-width="0.6" stroke-linejoin="round"/>
<rect x="989.4" y="533.4" width="5.2" height="2.6" rx="0" fill="none" stroke="#4a4a4a" stroke-width="0.6"/>
<rect x="988.6" y="536" width="6.8" height="2.6" rx="0" fill="#ddd" stroke="#4a4a4a" stroke-width="0.6"/>
<path d="M983.4,542.0 Q988,539.4 989.4,538.6 L994.6,538.6 Q996,539.4 1000.6,542.0 Z" fill="#bbb" stroke="#4a4a4a" stroke-width="0.6" stroke-linejoin="round"/>
<rect x="1005.6" y="533.4" width="5.2" height="2.6" rx="0" fill="none" stroke="#4a4a4a" stroke-width="0.6"/>
<rect x="1004.8" y="536" width="6.8" height="2.6" rx="0" fill="#ddd" stroke="#4a4a4a" stroke-width="0.6"/>
<path d="M999.6,542.0 Q1004.2,539.4 1005.6,538.6 L1010.8000000000001,538.6 Q1012.2,539.4 1016.8000000000001,542.0 Z" fill="#bbb" stroke="#4a4a4a" stroke-width="0.6" stroke-linejoin="round"/>
<path d="M458.4,827.9 L458.4,671.5 Q458.6,668 461.7,666.9 L476.5,653.5 L490.6,666.9" fill="none" stroke="#4a4a4a" stroke-width="0.9" stroke-linejoin="round"/>
<line x1="454.4" y1="679.4" x2="454.4" y2="830" stroke="#8a8a8a" stroke-width="0.7"/>
<path d="M454.4,830 Q454.6,833.2 458,833.2 L704.8,833.2" fill="none" stroke="#8a8a8a" stroke-width="0.7" stroke-linejoin="round"/>
<line x1="467.6" y1="670.9" x2="467.6" y2="819.1" stroke="#4a4a4a" stroke-width="0.7"/>
<circle cx="468.9" cy="666.3" r="1.4" fill="#999" stroke="#4a4a4a" stroke-width="0.7"/>
<circle cx="464.5" cy="804.3" r="1.3" fill="#999" stroke="#4a4a4a" stroke-width="0.7"/>
<circle cx="482.6" cy="822.6" r="1.3" fill="#999" stroke="#4a4a4a" stroke-width="0.7"/>
<line x1="458.4" y1="827.9" x2="714.1" y2="827.9" stroke="#4a4a4a" stroke-width="0.9"/>
<path d="M467.6,819.1 L711,819.1 Q714,819.4 714.3,822.5" fill="none" stroke="#4a4a4a" stroke-width="0.7" stroke-linejoin="round"/>
<line x1="458.4" y1="827.9" x2="467.6" y2="819.1" stroke="#4a4a4a" stroke-width="0.6"/>
<line x1="467.6" y1="819.1" x2="479.6" y2="807" stroke="#8a8a8a" stroke-width="0.6"/>
<line x1="562.8" y1="660.9" x2="576.6" y2="660.9" stroke="#4a4a4a" stroke-width="0.8"/>
<circle cx="577.2" cy="660.3" r="0.9" fill="#999" stroke="#4a4a4a" stroke-width="0.6"/>
<line x1="576.9" y1="661.6" x2="722" y2="661.6" stroke="#4a4a4a" stroke-width="0.9"/>
<line x1="487.3" y1="672.6" x2="710.9" y2="672.6" stroke="#4a4a4a" stroke-width="0.9"/>
<line x1="710.9" y1="672.6" x2="722" y2="661.6" stroke="#4a4a4a" stroke-width="0.7"/>
<line x1="710.9" y1="672.6" x2="710.9" y2="796" stroke="#4a4a4a" stroke-width="0.8"/>
<line x1="723.1" y1="662" x2="723.1" y2="690" stroke="#8a8a8a" stroke-width="0.8"/>
<line x1="723.5" y1="689.5" x2="723.5" y2="728" stroke="#333" stroke-width="0.9"/>
<ellipse cx="723.8" cy="691.6" rx="0.9" ry="1.6" fill="#555" stroke="#333" stroke-width="0.5"/>
<path d="M711.6,711 L711.6,713.5 M711.6,716 L711.6,719" fill="none" stroke="#333" stroke-width="1.1" stroke-linejoin="round"/>
<path d="M703.2,806.4 L716.5,796.4 L731.1,810 L715.6,828 L714.1,827.9" fill="none" stroke="#4a4a4a" stroke-width="0.9" stroke-linejoin="round"/>
<path d="M705.5,807.6 L717,799" fill="none" stroke="#8a8a8a" stroke-width="0.6" stroke-linejoin="round"/>
<circle cx="718.1" cy="818" r="1.5" fill="#999" stroke="#4a4a4a" stroke-width="0.7"/>
<path d="M490.6,666.9 L479.4,678.7 L479.4,803" fill="none" stroke="#4a4a4a" stroke-width="0.9" stroke-linejoin="round"/>
<path d="M492,668.5 L484.5,676.5" fill="none" stroke="#8a8a8a" stroke-width="0.6" stroke-linejoin="round"/>
<rect x="480.4" y="679.5" width="2.9" height="123.5" rx="0" fill="#bbb" stroke="none" stroke-width="0"/>
<line x1="483.3" y1="680" x2="483.3" y2="803" stroke="#4a4a4a" stroke-width="0.7"/>
<line x1="481.3" y1="692" x2="481.3" y2="803" stroke="#8a8a8a" stroke-width="0.6"/>
<line x1="484.8" y1="677" x2="484.8" y2="800.5" stroke="#8a8a8a" stroke-width="0.6"/>
<line x1="487.3" y1="674.4" x2="496.7" y2="674.4" stroke="#4a4a4a" stroke-width="0.7"/>
<path d="M479.4,803 L479.4,807.2 L703.8,807.2" fill="none" stroke="#4a4a4a" stroke-width="0.8" stroke-linejoin="round"/>
<line x1="480" y1="802.7" x2="706" y2="802.7" stroke="#4a4a4a" stroke-width="0.8"/>
<line x1="483.3" y1="800.9" x2="710.4" y2="800.9" stroke="#4a4a4a" stroke-width="0.7"/>
<path d="M483.5,800.5 L497,786" fill="none" stroke="#8a8a8a" stroke-width="0.6" stroke-linejoin="round"/>
<line x1="496.7" y1="672.6" x2="496.7" y2="800.5" stroke="#4a4a4a" stroke-width="0.8"/>
<line x1="498.8" y1="672.6" x2="498.8" y2="800.5" stroke="#333" stroke-width="1.0"/>
<line x1="497" y1="800.5" x2="523" y2="800.5" stroke="#4a4a4a" stroke-width="0.7"/>
<line x1="523" y1="672.6" x2="523" y2="800.5" stroke="#333" stroke-width="1.0"/>
<line x1="658.6" y1="672.6" x2="658.6" y2="800.5" stroke="#4a4a4a" stroke-width="0.8"/>
<line x1="659.8" y1="672.6" x2="659.8" y2="800.5" stroke="#4a4a4a" stroke-width="0.7"/>
<line x1="658.8" y1="800.5" x2="710.6" y2="800.5" stroke="#4a4a4a" stroke-width="0.8"/>
<rect x="548" y="674.6" width="3.5" height="1" rx="0" fill="#555" stroke="#333" stroke-width="0.6"/>
<rect x="641.5" y="674.6" width="3.5" height="1" rx="0" fill="#555" stroke="#333" stroke-width="0.6"/>
<path d="M576.7,672.6 L576.7,667.3 Q576.7,664.9 579,664.9 L661.8,664.9 Q664.2,664.9 664.2,667.3 L664.2,672.6" fill="none" stroke="#4a4a4a" stroke-width="0.9" stroke-linejoin="round"/>
<path d="M578.4,672.6 L578.4,668 Q578.4,666.4 580,666.4 L660.8,666.4 Q662.5,666.4 662.5,668 L662.5,672.6" fill="none" stroke="#8a8a8a" stroke-width="0.6" stroke-linejoin="round"/>
<line x1="606.2" y1="661.6" x2="606.2" y2="672.6" stroke="#4a4a4a" stroke-width="0.8"/>
<line x1="649" y1="661.6" x2="649" y2="672.6" stroke="#4a4a4a" stroke-width="0.8"/>
<line x1="692.1" y1="661.6" x2="692.1" y2="672.6" stroke="#4a4a4a" stroke-width="0.8"/>
<path d="M723.3,663.6 L736.3,663.6 Q741.9,665.6 741.9,672.6 Q741.9,677.1 737.3,679.2 L731.3,680.6 L726.8,677.2 L723.3,677.2" fill="none" stroke="#8a8a8a" stroke-width="0.8" stroke-linejoin="round"/>
<path d="M723.3,667.2 L737.3,667.2 L737.3,678.6" fill="none" stroke="#8a8a8a" stroke-width="0.6" stroke-linejoin="round"/>
<circle cx="732.9" cy="672.6" r="1.8" fill="none" stroke="#4a4a4a" stroke-width="0.8"/>
<path d="M723.3,776.1 L736.3,776.1 Q741.9,778.1 741.9,785.1 Q741.9,789.6 737.3,791.7 L731.3,793.1 L726.8,789.7 L723.3,789.7" fill="none" stroke="#8a8a8a" stroke-width="0.8" stroke-linejoin="round"/>
<path d="M723.3,779.7 L737.3,779.7 L737.3,791.1" fill="none" stroke="#8a8a8a" stroke-width="0.6" stroke-linejoin="round"/>
<circle cx="732.9" cy="785.1" r="1.8" fill="none" stroke="#4a4a4a" stroke-width="0.8"/>
<path d="M495.2,660.4 L495.2,647.5 L500.5,643.3 L505.5,643.3 Q511.6,646 511.6,653 Q511.6,657 509.5,660.4" fill="none" stroke="#8a8a8a" stroke-width="0.8" stroke-linejoin="round"/>
<line x1="499.2" y1="647" x2="499.2" y2="660.4" stroke="#8a8a8a" stroke-width="0.6"/>
<path d="M504.4,649.4 L506.6,651.6 L504.4,653.8 L502.2,651.6 Z" fill="none" stroke="#4a4a4a" stroke-width="0.7" stroke-linejoin="round"/>
<path d="M487.9,662.4 L530.6,661 L530.6,666.3 L487.9,667.6" fill="none" stroke="#4a4a4a" stroke-width="0.7" stroke-linejoin="round"/>
<path d="M487.9,662.4 L499.5,662 L499.5,667.2 L487.9,667.6 Z" fill="#666" stroke="#333" stroke-width="0.6" stroke-linejoin="round"/>
<path d="M486,661 L490.6,666.9 M483,660.5 L487.5,661.2" fill="none" stroke="#8a8a8a" stroke-width="0.6" stroke-linejoin="round"/>
<rect x="491.5" y="659.6" width="3" height="1.8" rx="0" fill="none" stroke="#8a8a8a" stroke-width="0.6"/>
<rect x="513.8" y="658.6" width="3.4" height="2.2" rx="0.8" fill="none" stroke="#8a8a8a" stroke-width="0.6"/>
<rect x="513.8" y="667.4" width="3.6" height="3" rx="0.8" fill="none" stroke="#4a4a4a" stroke-width="0.6"/>
<rect x="529.3" y="648.5" width="33.5" height="23.9" rx="0" fill="none" stroke="#4a4a4a" stroke-width="0.8"/>
<rect x="531.3" y="652.5" width="28.2" height="18.9" rx="3" fill="none" stroke="#444" stroke-width="1.1"/>
<rect x="532.6" y="653.8" width="25.6" height="16.4" rx="2.4" fill="none" stroke="#8a8a8a" stroke-width="0.6"/>
<rect x="545" y="645.3" width="2.7" height="3.2" rx="0.6" fill="none" stroke="#8a8a8a" stroke-width="0.6"/>
<rect x="541.2" y="658.6" width="8.6" height="7.6" rx="1" fill="#555" stroke="#222" stroke-width="0.8"/>
<rect x="531" y="660.6" width="10.2" height="4" rx="0" fill="#555" stroke="#333" stroke-width="0.6"/>
<line x1="549.8" y1="662.4" x2="557.5" y2="662.4" stroke="#4a4a4a" stroke-width="0.6"/>
<line x1="546" y1="648.5" x2="546" y2="671.4" stroke="#8a8a8a" stroke-width="0.5"/>
<line x1="562.8" y1="648.5" x2="562.8" y2="672.4" stroke="#4a4a4a" stroke-width="0.7"/>
<rect x="711" y="724.1" width="24.9" height="33.2" rx="0" fill="none" stroke="#4a4a4a" stroke-width="0.8"/>
<rect x="712.6" y="728.3" width="19.6" height="27.4" rx="3" fill="none" stroke="#444" stroke-width="1.1"/>
<rect x="713.8" y="729.5" width="17.2" height="25" rx="2.4" fill="none" stroke="#8a8a8a" stroke-width="0.6"/>
<rect x="735.9" y="738.9" width="3.8" height="2" rx="0.6" fill="none" stroke="#8a8a8a" stroke-width="0.6"/>
<line x1="712.6" y1="741.5" x2="732.2" y2="741.5" stroke="#8a8a8a" stroke-width="0.5"/>
<line x1="720" y1="728.3" x2="720" y2="738" stroke="#8a8a8a" stroke-width="0.5"/>
<line x1="725.2" y1="728.3" x2="725.2" y2="738" stroke="#8a8a8a" stroke-width="0.5"/>
<rect x="718.6" y="738" width="7" height="9" rx="1" fill="#555" stroke="#222" stroke-width="0.8"/>
<rect x="719.8" y="747" width="4" height="10.3" rx="0" fill="#555" stroke="#333" stroke-width="0.6"/>
<path d="M718.5,757.3 L718.1,786 L720.5,795 M724.8,757.3 L724.6,786 L722.8,795" fill="none" stroke="#4a4a4a" stroke-width="0.8" stroke-linejoin="round"/>
<path d="M718.2,786 L724.7,786 L723,796.5 L719.8,796.5 Z" fill="#666" stroke="#333" stroke-width="0.6" stroke-linejoin="round"/>
<rect x="713.4" y="769.6" width="4" height="3.8" rx="1.2" fill="none" stroke="#4a4a4a" stroke-width="0.7"/>
<rect x="725.4" y="769.6" width="3.2" height="3.8" rx="1" fill="none" stroke="#8a8a8a" stroke-width="0.6"/>
<path d="M722.5,796 L726.5,801 L724.5,802" fill="none" stroke="#8a8a8a" stroke-width="0.6" stroke-linejoin="round"/>
<circle cx="590.7" cy="734.1" r="58.9" fill="none" stroke="#4a4a4a" stroke-width="0.7"/>
<circle cx="590.7" cy="734.1" r="53" fill="none" stroke="#333" stroke-width="1.0"/>
<line x1="530.5" y1="734.1" x2="651" y2="734.1" stroke="#4a4a4a" stroke-width="0.6"/>
<line x1="590.7" y1="672.6" x2="590.7" y2="800" stroke="#4a4a4a" stroke-width="0.6"/>
<line x1="575.5" y1="684.37" x2="573.16" y2="676.72" stroke="#4a4a4a" stroke-width="0.7"/>
<line x1="605.9" y1="684.37" x2="608.24" y2="676.72" stroke="#4a4a4a" stroke-width="0.7"/>
<line x1="640.15" y1="718.03" x2="647.76" y2="715.56" stroke="#4a4a4a" stroke-width="0.7"/>
<line x1="640.15" y1="750.17" x2="647.76" y2="752.64" stroke="#4a4a4a" stroke-width="0.7"/>
<line x1="605.9" y1="783.83" x2="608.24" y2="791.48" stroke="#4a4a4a" stroke-width="0.7"/>
<line x1="575.5" y1="783.83" x2="573.16" y2="791.48" stroke="#4a4a4a" stroke-width="0.7"/>
<line x1="541.25" y1="750.17" x2="533.64" y2="752.64" stroke="#4a4a4a" stroke-width="0.7"/>
<line x1="541.25" y1="718.03" x2="533.64" y2="715.56" stroke="#4a4a4a" stroke-width="0.7"/>
<rect x="590.3" y="672.1" width="2" height="7" rx="0" fill="#888" stroke="#333" stroke-width="0.7"/>
<rect x="590.3" y="789.1" width="2" height="7" rx="0" fill="#888" stroke="#333" stroke-width="0.7"/>
<rect x="571.2" y="678.6" width="4" height="3.2" rx="0" fill="none" stroke="#8a8a8a" stroke-width="0.6"/>
<line x1="573.2" y1="678.6" x2="573.2" y2="681.8" stroke="#8a8a8a" stroke-width="0.5"/>
<line x1="571.2" y1="680.2" x2="575.2" y2="680.2" stroke="#8a8a8a" stroke-width="0.5"/>
<rect x="571.2" y="786.4" width="4" height="3.2" rx="0" fill="none" stroke="#8a8a8a" stroke-width="0.6"/>
<line x1="573.2" y1="786.4" x2="573.2" y2="789.6" stroke="#8a8a8a" stroke-width="0.5"/>
<line x1="571.2" y1="788" x2="575.2" y2="788" stroke="#8a8a8a" stroke-width="0.5"/>
<line x1="577.7" y1="683.5" x2="577.7" y2="784.8" stroke="#4a4a4a" stroke-width="0.7"/>
<line x1="579.3" y1="683" x2="579.3" y2="785.2" stroke="#8a8a8a" stroke-width="0.6"/>
<g transform="translate(547 690.6) rotate(45)"><rect x="-2.2" y="-2.2" width="9.5" height="4.4" rx="1.6" fill="#fff" stroke="#4a4a4a" stroke-width="0.7"/><circle cx="0" cy="0" r="2" fill="#fff" stroke="#222" stroke-width="1.1"/></g>
<g transform="translate(634.3 690.6) rotate(135)"><rect x="-2.2" y="-2.2" width="9.5" height="4.4" rx="1.6" fill="#fff" stroke="#4a4a4a" stroke-width="0.7"/><circle cx="0" cy="0" r="2" fill="#fff" stroke="#222" stroke-width="1.1"/></g>
<g transform="translate(547 777.6) rotate(-45)"><rect x="-2.2" y="-2.2" width="9.5" height="4.4" rx="1.6" fill="#fff" stroke="#4a4a4a" stroke-width="0.7"/><circle cx="0" cy="0" r="2" fill="#fff" stroke="#222" stroke-width="1.1"/></g>
<g transform="translate(634.3 777.6) rotate(-135)"><rect x="-2.2" y="-2.2" width="9.5" height="4.4" rx="1.6" fill="#fff" stroke="#4a4a4a" stroke-width="0.7"/><circle cx="0" cy="0" r="2" fill="#fff" stroke="#222" stroke-width="1.1"/></g>
<circle cx="539.4" cy="700.2" r="1.5" fill="#bbb" stroke="#4a4a4a" stroke-width="0.6"/>
<circle cx="642" cy="700.2" r="1.5" fill="#bbb" stroke="#4a4a4a" stroke-width="0.6"/>
<circle cx="539.4" cy="768" r="1.5" fill="#bbb" stroke="#4a4a4a" stroke-width="0.6"/>
<circle cx="643.5" cy="768" r="1.5" fill="#bbb" stroke="#4a4a4a" stroke-width="0.6"/>
<ellipse cx="613" cy="734.3" rx="30.8" ry="38.8" fill="#fff" stroke="#4a4a4a" stroke-width="0.7"/>
<ellipse cx="613.6" cy="734.5" rx="29.8" ry="37.6" fill="none" stroke="#8a8a8a" stroke-width="0.6"/>
<ellipse cx="614.4" cy="734.5" rx="28.6" ry="36.4" fill="none" stroke="#4a4a4a" stroke-width="0.6"/>
<ellipse cx="613.7" cy="734.7" rx="19.8" ry="34.7" fill="#fff" stroke="#333" stroke-width="1.0"/>
<line x1="598.6" y1="714.7" x2="647" y2="714.7" stroke="#4a4a4a" stroke-width="0.8"/>
<line x1="598.6" y1="754.3" x2="647" y2="754.3" stroke="#4a4a4a" stroke-width="0.8"/>
<path d="M614,706.5 L617.5,703 M614,762 L617.5,765.5" fill="none" stroke="#4a4a4a" stroke-width="0.7" stroke-linejoin="round"/>
<line x1="592.5" y1="734.1" x2="651" y2="734.1" stroke="#4a4a4a" stroke-width="0.6"/>
<path d="M643.6,714.7 L647,714.7 L647,754.3 L643.6,754.3" fill="none" stroke="#8a8a8a" stroke-width="0.6" stroke-linejoin="round"/>
<rect x="452.5" y="707" width="4.5" height="4" rx="0.5" fill="none" stroke="#333" stroke-width="0.8"/>
<rect x="454" y="708" width="2.6" height="2.3" rx="0" fill="#777" stroke="#333" stroke-width="0.5"/>
<rect x="452.5" y="815.4" width="4.5" height="4.4" rx="0.5" fill="none" stroke="#333" stroke-width="0.8"/>
<rect x="454" y="816.4" width="2.6" height="2.4" rx="0" fill="#777" stroke="#333" stroke-width="0.5"/>
<rect x="554" y="829.8" width="4.4" height="4.8" rx="0.5" fill="none" stroke="#333" stroke-width="0.8"/>
<rect x="554.9" y="831.8" width="2.6" height="2.4" rx="0" fill="#fff" stroke="#333" stroke-width="0.5"/>
<rect x="668.7" y="829.8" width="4.4" height="4.8" rx="0.5" fill="none" stroke="#333" stroke-width="0.8"/>
<rect x="669.6" y="831.8" width="2.6" height="2.4" rx="0" fill="#fff" stroke="#333" stroke-width="0.5"/>
<line x1="94.7" y1="360.6" x2="94.7" y2="493.4" stroke="#f4c8aa" stroke-width="0.9"/>
<line x1="94.7" y1="360.8" x2="110" y2="360.8" stroke="#e08a50" stroke-width="1.2"/>
<line x1="94.7" y1="493.3" x2="108.5" y2="493.3" stroke="#e08a50" stroke-width="1.2"/>
<line x1="444.4" y1="360.4" x2="444.4" y2="493.8" stroke="#f4c8aa" stroke-width="0.9"/>
<line x1="444.7" y1="360.6" x2="705.4" y2="360.6" stroke="#ecae88" stroke-width="2.0"/>
<line x1="444.7" y1="493.6" x2="705.4" y2="493.6" stroke="#ecae88" stroke-width="2.0"/>
<line x1="704.5" y1="360.4" x2="704.5" y2="493.8" stroke="#ecae88" stroke-width="2.0"/>
<line x1="886.6" y1="360.3" x2="886.6" y2="493.8" stroke="#ecae88" stroke-width="2.0"/>
<line x1="886.2" y1="360.6" x2="1049.6" y2="360.6" stroke="#ecae88" stroke-width="2.0"/>
<line x1="886.2" y1="493.6" x2="1049.6" y2="493.6" stroke="#ecae88" stroke-width="2.0"/>
<line x1="1049.4" y1="360.3" x2="1049.4" y2="493.8" stroke="#f4c8aa" stroke-width="0.9"/>
<line x1="444.8" y1="679.3" x2="444.8" y2="842.3" stroke="#f4c8aa" stroke-width="0.9"/>
<line x1="444.8" y1="842.3" x2="705" y2="842.3" stroke="#f4c8aa" stroke-width="0.9"/>
<line x1="705" y1="828" x2="705" y2="842.3" stroke="#f4c8aa" stroke-width="0.9"/>
<line x1="203" y1="157.4" x2="398.4" y2="157.4" stroke="#505050" stroke-width="0.8"/>
<line x1="394.2" y1="157.4" x2="394.2" y2="533.3" stroke="#505050" stroke-width="0.8"/>
<polygon points="394.2,157.4 395.9,164.4 392.5,164.4" fill="#111" stroke="#111" stroke-width="0.3" stroke-linejoin="round"/>
<polygon points="394.2,533.3 392.5,526.3 395.9,526.3" fill="#111" stroke="#111" stroke-width="0.3" stroke-linejoin="round"/>
<text x="392.9" y="339.5" font-size="16.2" fill="#262626" text-anchor="middle" transform="rotate(-90 392.9 339.5)">1313</text>
<line x1="202.4" y1="182" x2="376" y2="182" stroke="#505050" stroke-width="0.8"/>
<line x1="371.5" y1="182" x2="371.5" y2="533.3" stroke="#505050" stroke-width="0.8"/>
<polygon points="371.5,182 373.2,189 369.8,189" fill="#111" stroke="#111" stroke-width="0.3" stroke-linejoin="round"/>
<polygon points="371.5,533.3 369.8,526.3 373.2,526.3" fill="#111" stroke="#111" stroke-width="0.3" stroke-linejoin="round"/>
<text x="370.2" y="351" font-size="16.2" fill="#262626" text-anchor="middle" transform="rotate(-90 370.2 351)">1226</text>
<line x1="263" y1="187.2" x2="352.7" y2="187.2" stroke="#505050" stroke-width="0.8"/>
<line x1="348.7" y1="187.2" x2="348.7" y2="533.3" stroke="#505050" stroke-width="0.8"/>
<polygon points="348.7,187.2 350.4,194.2 347,194.2" fill="#111" stroke="#111" stroke-width="0.3" stroke-linejoin="round"/>
<polygon points="348.7,533.3 347,526.3 350.4,526.3" fill="#111" stroke="#111" stroke-width="0.3" stroke-linejoin="round"/>
<text x="347.4" y="361" font-size="16.2" fill="#262626" text-anchor="middle" transform="rotate(-90 347.4 361)">1207</text>
<line x1="265" y1="280.6" x2="331.5" y2="280.6" stroke="#505050" stroke-width="0.8"/>
<line x1="326.8" y1="280.6" x2="326.8" y2="533.3" stroke="#505050" stroke-width="0.8"/>
<polygon points="326.8,280.6 328.5,287.6 325.1,287.6" fill="#111" stroke="#111" stroke-width="0.3" stroke-linejoin="round"/>
<polygon points="326.8,533.3 325.1,526.3 328.5,526.3" fill="#111" stroke="#111" stroke-width="0.3" stroke-linejoin="round"/>
<text x="325.5" y="406.6" font-size="16.2" fill="#262626" text-anchor="middle" transform="rotate(-90 325.5 406.6)">882</text>
<line x1="276" y1="533.3" x2="398.4" y2="533.3" stroke="#505050" stroke-width="0.8"/>
<line x1="276" y1="533.3" x2="376" y2="533.3" stroke="#333" stroke-width="1.2"/>
<line x1="291" y1="542.4" x2="331" y2="542.4" stroke="#505050" stroke-width="0.8"/>
<line x1="326.8" y1="542.4" x2="326.8" y2="598.5" stroke="#505050" stroke-width="0.8"/>
<polygon points="326.8,542.4 328.5,549.4 325.1,549.4" fill="#111" stroke="#111" stroke-width="0.3" stroke-linejoin="round"/>
<text x="325.5" y="577" font-size="16.2" fill="#262626" text-anchor="middle" transform="rotate(-90 325.5 577)">31-95</text>
<line x1="288" y1="513.7" x2="306" y2="513.7" stroke="#505050" stroke-width="0.8"/>
<line x1="302.2" y1="513.7" x2="302.2" y2="533.3" stroke="#505050" stroke-width="0.8"/>
<polygon points="302.2,513.7 303.9,520.7 300.5,520.7" fill="#111" stroke="#111" stroke-width="0.3" stroke-linejoin="round"/>
<polygon points="302.2,533.3 300.5,526.3 303.9,526.3" fill="#111" stroke="#111" stroke-width="0.3" stroke-linejoin="round"/>
<text x="301.1" y="522.5" font-size="16.2" fill="#262626" text-anchor="middle" transform="rotate(-90 301.1 522.5)">70</text>
<line x1="62" y1="338.5" x2="123.2" y2="338.5" stroke="#505050" stroke-width="0.8"/>
<polygon points="94.9,338.5 87.9,340.2 87.9,336.8" fill="#111" stroke="#111" stroke-width="0.3" stroke-linejoin="round"/>
<polygon points="109.3,338.5 116.3,336.8 116.3,340.2" fill="#111" stroke="#111" stroke-width="0.3" stroke-linejoin="round"/>
<line x1="94.9" y1="334" x2="94.9" y2="360.5" stroke="#505050" stroke-width="0.8"/>
<text x="70.9" y="337.3" font-size="16.2" fill="#e08a50" text-anchor="middle">50</text>
<line x1="54.8" y1="360.5" x2="94.9" y2="360.5" stroke="#505050" stroke-width="0.8"/>
<line x1="54.8" y1="494.1" x2="94.9" y2="494.1" stroke="#505050" stroke-width="0.8"/>
<line x1="59.3" y1="360.5" x2="59.3" y2="494.1" stroke="#505050" stroke-width="0.8"/>
<polygon points="59.3,360.5 61,367.5 57.6,367.5" fill="#111" stroke="#111" stroke-width="0.3" stroke-linejoin="round"/>
<polygon points="59.3,494.1 57.6,487.1 61,487.1" fill="#111" stroke="#111" stroke-width="0.3" stroke-linejoin="round"/>
<text x="58" y="429" font-size="16.2" fill="#e08a50" text-anchor="middle" transform="rotate(-90 58 429)">467</text>
<line x1="59.3" y1="494.1" x2="59.3" y2="533.5" stroke="#505050" stroke-width="0.8"/>
<polygon points="59.3,494.1 61,501.1 57.6,501.1" fill="#111" stroke="#111" stroke-width="0.3" stroke-linejoin="round"/>
<polygon points="59.3,533.5 57.6,526.5 61,526.5" fill="#111" stroke="#111" stroke-width="0.3" stroke-linejoin="round"/>
<text x="58" y="513.6" font-size="16.2" fill="#262626" text-anchor="middle" transform="rotate(-90 58 513.6)">137</text>
<line x1="55" y1="533.5" x2="180" y2="533.5" stroke="#505050" stroke-width="0.8"/>
<line x1="94.5" y1="493.5" x2="94.5" y2="590" stroke="#505050" stroke-width="0.8"/>
<line x1="116.3" y1="495" x2="116.3" y2="564.5" stroke="#505050" stroke-width="0.8"/>
<line x1="129.8" y1="541" x2="129.8" y2="590" stroke="#505050" stroke-width="0.8"/>
<line x1="69.4" y1="559.8" x2="94.5" y2="559.8" stroke="#505050" stroke-width="0.8"/>
<line x1="94.5" y1="559.8" x2="116.3" y2="559.8" stroke="#505050" stroke-width="0.8"/>
<polygon points="94.5,559.8 101.5,558.1 101.5,561.5" fill="#111" stroke="#111" stroke-width="0.3" stroke-linejoin="round"/>
<polygon points="116.3,559.8 109.3,561.5 109.3,558.1" fill="#111" stroke="#111" stroke-width="0.3" stroke-linejoin="round"/>
<text x="78" y="558.5" font-size="16.2" fill="#262626" text-anchor="middle">74</text>
<line x1="94.5" y1="585.5" x2="129.8" y2="585.5" stroke="#505050" stroke-width="0.8"/>
<polygon points="94.5,585.5 101.5,583.8 101.5,587.2" fill="#111" stroke="#111" stroke-width="0.3" stroke-linejoin="round"/>
<polygon points="129.8,585.5 122.8,587.2 122.8,583.8" fill="#111" stroke="#111" stroke-width="0.3" stroke-linejoin="round"/>
<text x="110.8" y="584.2" font-size="16.2" fill="#262626" text-anchor="middle">122</text>
<line x1="224.8" y1="533.3" x2="224.8" y2="575.5" stroke="#505050" stroke-width="0.8"/>
<line x1="276.2" y1="533.3" x2="276.2" y2="603" stroke="#505050" stroke-width="0.8"/>
<line x1="204.5" y1="535" x2="204.5" y2="603" stroke="#505050" stroke-width="0.8"/>
<line x1="224.8" y1="571" x2="276.2" y2="571" stroke="#505050" stroke-width="0.8"/>
<polygon points="224.8,571 231.8,569.3 231.8,572.7" fill="#111" stroke="#111" stroke-width="0.3" stroke-linejoin="round"/>
<polygon points="276.2,571 269.2,572.7 269.2,569.3" fill="#111" stroke="#111" stroke-width="0.3" stroke-linejoin="round"/>
<text x="250" y="569.7" font-size="16.2" fill="#262626" text-anchor="middle">179</text>
<line x1="204.5" y1="598" x2="276.2" y2="598" stroke="#505050" stroke-width="0.8"/>
<polygon points="204.5,598 211.5,596.3 211.5,599.7" fill="#111" stroke="#111" stroke-width="0.3" stroke-linejoin="round"/>
<polygon points="276.2,598 269.2,599.7 269.2,596.3" fill="#111" stroke="#111" stroke-width="0.3" stroke-linejoin="round"/>
<text x="240" y="596.7" font-size="16.2" fill="#262626" text-anchor="middle">250</text>
<line x1="593.8" y1="157.5" x2="622.2" y2="130.1" stroke="#505050" stroke-width="0.8"/>
<line x1="643.3" y1="206.5" x2="671.1" y2="179.1" stroke="#505050" stroke-width="0.8"/>
<line x1="619.6" y1="133.5" x2="668.6" y2="182.1" stroke="#505050" stroke-width="0.8"/>
<polygon points="619.6,133.5 625.75,137.25 623.35,139.65" fill="#111" stroke="#111" stroke-width="0.3" stroke-linejoin="round"/>
<polygon points="668.6,182.1 662.45,178.35 664.85,175.95" fill="#111" stroke="#111" stroke-width="0.3" stroke-linejoin="round"/>
<text x="645.2" y="156.1" font-size="15.5" fill="#262626" text-anchor="middle" transform="rotate(45 645.2 156.1)">Ø250</text>
<line x1="714.6" y1="187.5" x2="777" y2="187.5" stroke="#505050" stroke-width="0.8"/>
<line x1="773.5" y1="187.5" x2="773.5" y2="533.2" stroke="#505050" stroke-width="0.8"/>
<polygon points="773.5,187.5 775.2,194.5 771.8,194.5" fill="#111" stroke="#111" stroke-width="0.3" stroke-linejoin="round"/>
<polygon points="773.5,533.2 771.8,526.2 775.2,526.2" fill="#111" stroke="#111" stroke-width="0.3" stroke-linejoin="round"/>
<text x="772.2" y="359.5" font-size="16.2" fill="#262626" text-anchor="middle" transform="rotate(-90 772.2 359.5)">1208</text>
<line x1="479.6" y1="533.2" x2="777.5" y2="533.2" stroke="#505050" stroke-width="0.8"/>
<line x1="737" y1="542.3" x2="777.5" y2="542.3" stroke="#505050" stroke-width="0.8"/>
<line x1="773.5" y1="542.3" x2="773.5" y2="598" stroke="#505050" stroke-width="0.8"/>
<polygon points="773.5,542.3 775.2,549.3 771.8,549.3" fill="#111" stroke="#111" stroke-width="0.3" stroke-linejoin="round"/>
<text x="772.2" y="577" font-size="16.2" fill="#262626" text-anchor="middle" transform="rotate(-90 772.2 577)">31-95</text>
<line x1="467.5" y1="443.2" x2="688.6" y2="443.2" stroke="#505050" stroke-width="0.8"/>
<polygon points="467.5,443.2 474.5,441.5 474.5,444.9" fill="#111" stroke="#111" stroke-width="0.3" stroke-linejoin="round"/>
<polygon points="688.6,443.2 681.6,444.9 681.6,441.5" fill="#111" stroke="#111" stroke-width="0.3" stroke-linejoin="round"/>
<text x="568.1" y="441.9" font-size="16.2" fill="#262626" text-anchor="middle">771</text>
<line x1="467.5" y1="462.2" x2="697.3" y2="462.2" stroke="#505050" stroke-width="0.8"/>
<polygon points="467.5,462.2 474.5,460.5 474.5,463.9" fill="#111" stroke="#111" stroke-width="0.3" stroke-linejoin="round"/>
<polygon points="697.3,462.2 690.3,463.9 690.3,460.5" fill="#111" stroke="#111" stroke-width="0.3" stroke-linejoin="round"/>
<text x="568.1" y="460.9" font-size="16.2" fill="#262626" text-anchor="middle">807</text>
<line x1="637.6" y1="375" x2="637.6" y2="475" stroke="#505050" stroke-width="0.8"/>
<polygon points="637.6,375 639.3,382 635.9,382" fill="#111" stroke="#111" stroke-width="0.3" stroke-linejoin="round"/>
<polygon points="637.6,475 635.9,468 639.3,468" fill="#111" stroke="#111" stroke-width="0.3" stroke-linejoin="round"/>
<text x="636.3" y="420.2" font-size="16.2" fill="#262626" text-anchor="middle" transform="rotate(-90 636.3 420.2)">348</text>
<line x1="661.5" y1="366.4" x2="661.5" y2="485.2" stroke="#505050" stroke-width="0.8"/>
<polygon points="661.5,366.4 663.2,373.4 659.8,373.4" fill="#111" stroke="#111" stroke-width="0.3" stroke-linejoin="round"/>
<polygon points="661.5,485.2 659.8,478.2 663.2,478.2" fill="#111" stroke="#111" stroke-width="0.3" stroke-linejoin="round"/>
<text x="660.2" y="407" font-size="16.2" fill="#262626" text-anchor="middle" transform="rotate(-90 660.2 407)">422</text>
<line x1="479.6" y1="496" x2="479.6" y2="575" stroke="#505050" stroke-width="0.8"/>
<line x1="601.8" y1="534" x2="601.8" y2="575" stroke="#505050" stroke-width="0.8"/>
<line x1="479.6" y1="570.5" x2="601.8" y2="570.5" stroke="#505050" stroke-width="0.8"/>
<polygon points="479.6,570.5 486.6,568.8 486.6,572.2" fill="#111" stroke="#111" stroke-width="0.3" stroke-linejoin="round"/>
<polygon points="601.8,570.5 594.8,572.2 594.8,568.8" fill="#111" stroke="#111" stroke-width="0.3" stroke-linejoin="round"/>
<text x="540.4" y="569.2" font-size="16.2" fill="#262626" text-anchor="middle">427</text>
<line x1="894.2" y1="440" x2="1028.1" y2="440" stroke="#505050" stroke-width="0.8"/>
<polygon points="894.2,440 901.2,438.3 901.2,441.7" fill="#111" stroke="#111" stroke-width="0.3" stroke-linejoin="round"/>
<polygon points="1028.1,440 1021.1,441.7 1021.1,438.3" fill="#111" stroke="#111" stroke-width="0.3" stroke-linejoin="round"/>
<text x="962" y="438.7" font-size="16.2" fill="#262626" text-anchor="middle">466</text>
<line x1="904.6" y1="461.5" x2="1028" y2="461.5" stroke="#505050" stroke-width="0.8"/>
<polygon points="904.6,461.5 911.6,459.8 911.6,463.2" fill="#111" stroke="#111" stroke-width="0.3" stroke-linejoin="round"/>
<polygon points="1028,461.5 1021,463.2 1021,459.8" fill="#111" stroke="#111" stroke-width="0.3" stroke-linejoin="round"/>
<text x="967.3" y="460.2" font-size="16.2" fill="#262626" text-anchor="middle">431</text>
<line x1="444.8" y1="597" x2="444.8" y2="679.3" stroke="#505050" stroke-width="0.8"/>
<line x1="444.8" y1="842.3" x2="444.8" y2="895" stroke="#505050" stroke-width="0.8"/>
<line x1="590.7" y1="596.8" x2="590.7" y2="672" stroke="#505050" stroke-width="0.8"/>
<line x1="444.8" y1="601.2" x2="590.7" y2="601.2" stroke="#505050" stroke-width="0.8"/>
<polygon points="444.8,601.2 451.8,599.5 451.8,602.9" fill="#111" stroke="#111" stroke-width="0.3" stroke-linejoin="round"/>
<polygon points="590.7,601.2 583.7,602.9 583.7,599.5" fill="#111" stroke="#111" stroke-width="0.3" stroke-linejoin="round"/>
<text x="516.8" y="599.9" font-size="16.2" fill="#262626" text-anchor="middle">511</text>
<line x1="554.4" y1="616" x2="554.4" y2="665" stroke="#505050" stroke-width="0.8"/>
<line x1="444.8" y1="620.6" x2="554.4" y2="620.6" stroke="#505050" stroke-width="0.8"/>
<polygon points="444.8,620.6 451.8,618.9 451.8,622.3" fill="#111" stroke="#111" stroke-width="0.3" stroke-linejoin="round"/>
<polygon points="554.4,620.6 547.4,622.3 547.4,618.9" fill="#111" stroke="#111" stroke-width="0.3" stroke-linejoin="round"/>
<text x="498.4" y="619.3" font-size="16.2" fill="#262626" text-anchor="middle">383</text>
<line x1="536.4" y1="636.2" x2="536.4" y2="659.8" stroke="#505050" stroke-width="0.8"/>
<line x1="572.1" y1="636.2" x2="572.1" y2="659.8" stroke="#505050" stroke-width="0.8"/>
<line x1="536.4" y1="640.5" x2="572.1" y2="640.5" stroke="#505050" stroke-width="0.8"/>
<polygon points="536.4,640.5 543.4,638.8 543.4,642.2" fill="#111" stroke="#111" stroke-width="0.3" stroke-linejoin="round"/>
<polygon points="572.1,640.5 565.1,642.2 565.1,638.8" fill="#111" stroke="#111" stroke-width="0.3" stroke-linejoin="round"/>
<text x="554" y="638.8" font-size="14" fill="#262626" text-anchor="middle">Ø124</text>
<line x1="392.5" y1="642.8" x2="503" y2="642.8" stroke="#505050" stroke-width="0.8"/>
<line x1="412" y1="679.3" x2="458" y2="679.3" stroke="#505050" stroke-width="0.8"/>
<line x1="391.6" y1="842.3" x2="444.8" y2="842.3" stroke="#505050" stroke-width="0.8"/>
<line x1="396.2" y1="642.8" x2="396.2" y2="842.3" stroke="#505050" stroke-width="0.8"/>
<polygon points="396.2,642.8 397.9,649.8 394.5,649.8" fill="#111" stroke="#111" stroke-width="0.3" stroke-linejoin="round"/>
<polygon points="396.2,842.3 394.5,835.3 397.9,835.3" fill="#111" stroke="#111" stroke-width="0.3" stroke-linejoin="round"/>
<text x="395.1" y="743.3" font-size="16.2" fill="#262626" text-anchor="middle" transform="rotate(-90 395.1 743.3)">697</text>
<line x1="415.8" y1="679.3" x2="415.8" y2="842.3" stroke="#505050" stroke-width="0.8"/>
<polygon points="415.8,679.3 417.5,686.3 414.1,686.3" fill="#111" stroke="#111" stroke-width="0.3" stroke-linejoin="round"/>
<polygon points="415.8,842.3 414.1,835.3 417.5,835.3" fill="#111" stroke="#111" stroke-width="0.3" stroke-linejoin="round"/>
<text x="414.6" y="759.3" font-size="16.2" fill="#e08a50" text-anchor="middle" transform="rotate(-90 414.6 759.3)">570</text>
<line x1="705" y1="842" x2="705" y2="874.5" stroke="#505050" stroke-width="0.8"/>
<line x1="444.8" y1="870.7" x2="705" y2="870.7" stroke="#505050" stroke-width="0.8"/>
<polygon points="444.8,870.7 451.8,869 451.8,872.4" fill="#111" stroke="#111" stroke-width="0.3" stroke-linejoin="round"/>
<polygon points="705,870.7 698,872.4 698,869" fill="#111" stroke="#111" stroke-width="0.3" stroke-linejoin="round"/>
<text x="570" y="869.4" font-size="16.2" fill="#e08a50" text-anchor="middle">910</text>
<line x1="741.8" y1="780" x2="741.8" y2="895" stroke="#505050" stroke-width="0.8"/>
<line x1="444.8" y1="891.3" x2="741.8" y2="891.3" stroke="#505050" stroke-width="0.8"/>
<polygon points="444.8,891.3 451.8,889.6 451.8,893" fill="#111" stroke="#111" stroke-width="0.3" stroke-linejoin="round"/>
<polygon points="741.8,891.3 734.8,893 734.8,889.6" fill="#111" stroke="#111" stroke-width="0.3" stroke-linejoin="round"/>
<text x="592.8" y="890.2" font-size="16.2" fill="#262626" text-anchor="middle">1037</text>
<text x="17.3" y="47.3" font-size="33.87" font-weight="bold" fill="#000">Dimension sheets - Architektur-Eck 45/82/48</text>
<text x="737.3" y="38.2" font-size="20.45" font-weight="bold" fill="#000">lifting door (easy-lift)</text>
</svg>
</body></html>
